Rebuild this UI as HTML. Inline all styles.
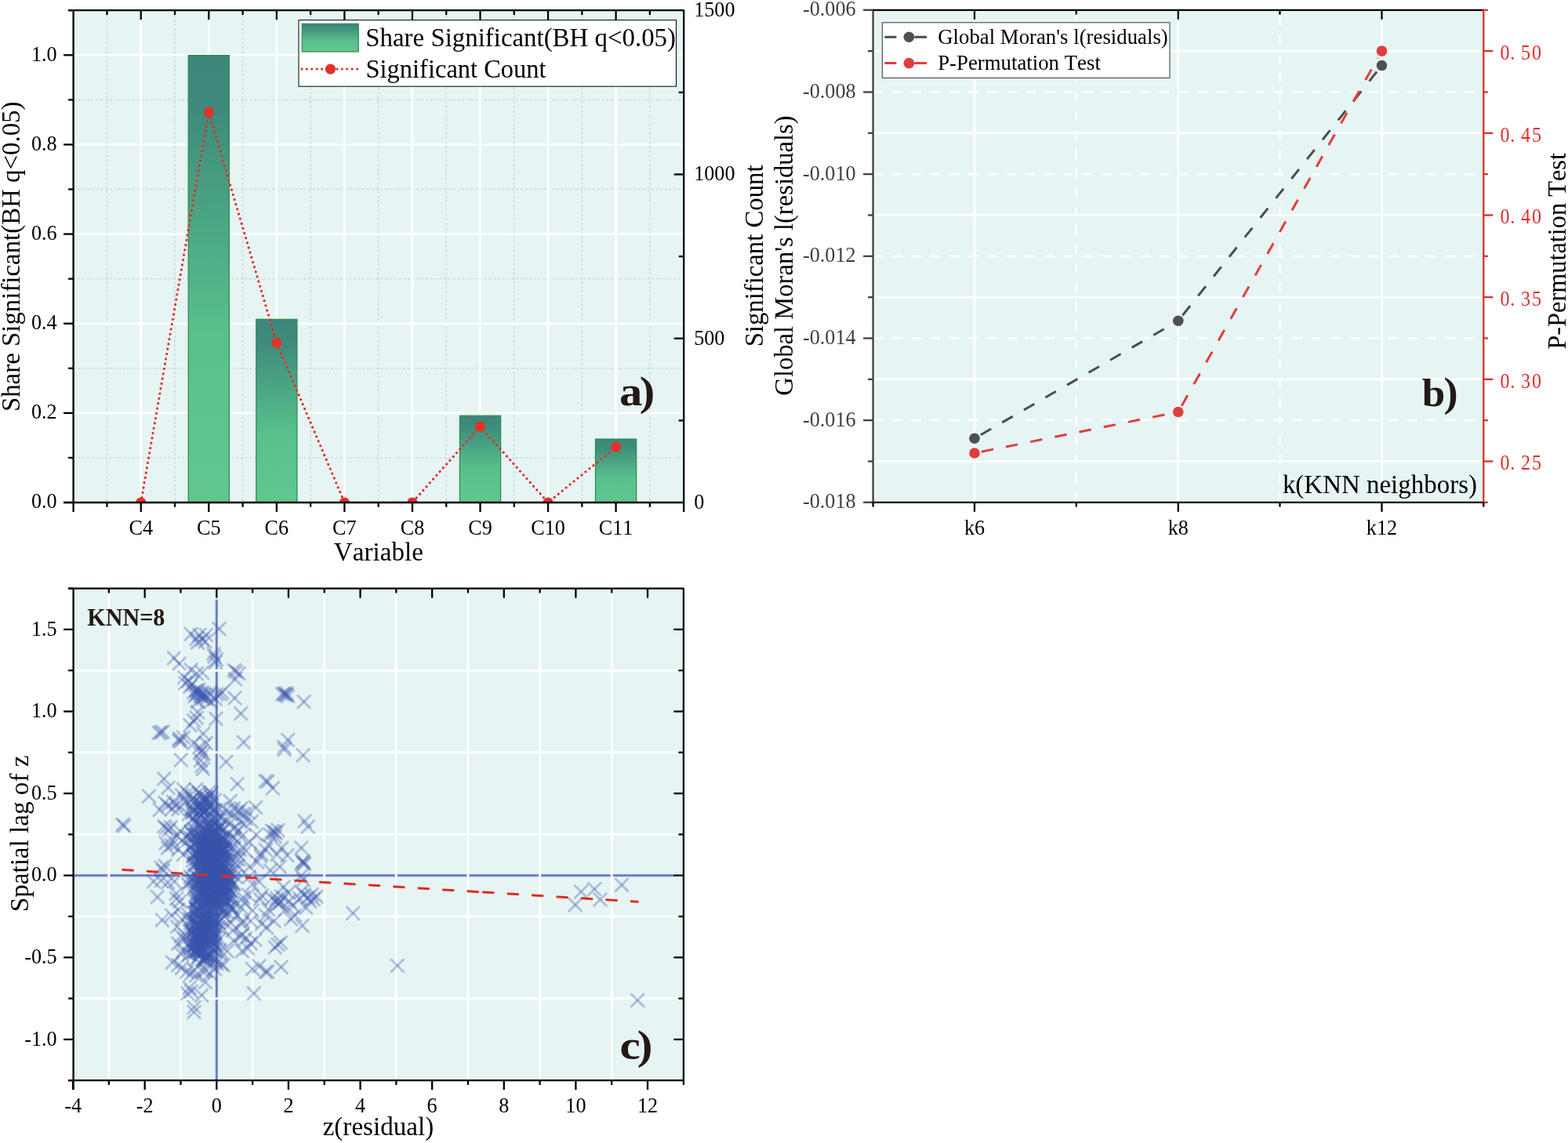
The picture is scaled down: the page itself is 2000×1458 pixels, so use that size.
<!DOCTYPE html>
<html lang="en"><head><meta charset="utf-8"><title>Figure</title>
<style>
html,body{margin:0;padding:0;background:#fff;}
body{width:2000px;height:1458px;overflow:hidden;}
svg{display:block;font-family:"Liberation Serif", serif;font-kerning:none;}
</style></head><body>
<svg width="2000" height="1458" viewBox="0 0 2000 1458">
<rect x="0" y="0" width="2000" height="1458" fill="#fff"/>
<rect x="93.6" y="13.2" width="778.6" height="627.8" fill="#e6f4f4"/>
<line x1="136.47" y1="13.20" x2="136.47" y2="641.00" stroke="#cad3d3" stroke-width="1.25" stroke-dasharray="3.1 2.66"/>
<line x1="223.02" y1="13.20" x2="223.02" y2="641.00" stroke="#cad3d3" stroke-width="1.25" stroke-dasharray="3.1 2.66"/>
<line x1="309.57" y1="13.20" x2="309.57" y2="641.00" stroke="#cad3d3" stroke-width="1.25" stroke-dasharray="3.1 2.66"/>
<line x1="396.12" y1="13.20" x2="396.12" y2="641.00" stroke="#cad3d3" stroke-width="1.25" stroke-dasharray="3.1 2.66"/>
<line x1="482.67" y1="13.20" x2="482.67" y2="641.00" stroke="#cad3d3" stroke-width="1.25" stroke-dasharray="3.1 2.66"/>
<line x1="569.23" y1="13.20" x2="569.23" y2="641.00" stroke="#cad3d3" stroke-width="1.25" stroke-dasharray="3.1 2.66"/>
<line x1="655.77" y1="13.20" x2="655.77" y2="641.00" stroke="#cad3d3" stroke-width="1.25" stroke-dasharray="3.1 2.66"/>
<line x1="742.33" y1="13.20" x2="742.33" y2="641.00" stroke="#cad3d3" stroke-width="1.25" stroke-dasharray="3.1 2.66"/>
<line x1="828.88" y1="13.20" x2="828.88" y2="641.00" stroke="#cad3d3" stroke-width="1.25" stroke-dasharray="3.1 2.66"/>
<line x1="93.60" y1="583.93" x2="872.20" y2="583.93" stroke="#cad3d3" stroke-width="1.25" stroke-dasharray="3.1 2.66"/>
<line x1="93.60" y1="469.78" x2="872.20" y2="469.78" stroke="#cad3d3" stroke-width="1.25" stroke-dasharray="3.1 2.66"/>
<line x1="93.60" y1="355.64" x2="872.20" y2="355.64" stroke="#cad3d3" stroke-width="1.25" stroke-dasharray="3.1 2.66"/>
<line x1="93.60" y1="241.49" x2="872.20" y2="241.49" stroke="#cad3d3" stroke-width="1.25" stroke-dasharray="3.1 2.66"/>
<line x1="93.60" y1="127.35" x2="872.20" y2="127.35" stroke="#cad3d3" stroke-width="1.25" stroke-dasharray="3.1 2.66"/>
<line x1="179.75" y1="13.20" x2="179.75" y2="641.00" stroke="#fff" stroke-width="2.9" />
<line x1="266.30" y1="13.20" x2="266.30" y2="641.00" stroke="#fff" stroke-width="2.9" />
<line x1="352.85" y1="13.20" x2="352.85" y2="641.00" stroke="#fff" stroke-width="2.9" />
<line x1="439.40" y1="13.20" x2="439.40" y2="641.00" stroke="#fff" stroke-width="2.9" />
<line x1="525.95" y1="13.20" x2="525.95" y2="641.00" stroke="#fff" stroke-width="2.9" />
<line x1="612.50" y1="13.20" x2="612.50" y2="641.00" stroke="#fff" stroke-width="2.9" />
<line x1="699.05" y1="13.20" x2="699.05" y2="641.00" stroke="#fff" stroke-width="2.9" />
<line x1="785.60" y1="13.20" x2="785.60" y2="641.00" stroke="#fff" stroke-width="2.9" />
<line x1="93.60" y1="526.85" x2="872.20" y2="526.85" stroke="#fff" stroke-width="2.9" />
<line x1="93.60" y1="412.71" x2="872.20" y2="412.71" stroke="#fff" stroke-width="2.9" />
<line x1="93.60" y1="298.56" x2="872.20" y2="298.56" stroke="#fff" stroke-width="2.9" />
<line x1="93.60" y1="184.42" x2="872.20" y2="184.42" stroke="#fff" stroke-width="2.9" />
<line x1="93.60" y1="70.27" x2="872.20" y2="70.27" stroke="#fff" stroke-width="2.9" />
<defs><linearGradient id="bg" x1="0" y1="0" x2="0" y2="1"><stop offset="0" stop-color="#3d877a"/><stop offset="0.12" stop-color="#3e8b7c"/><stop offset="0.62" stop-color="#58c08c"/><stop offset="1" stop-color="#61c78f"/></linearGradient><clipPath id="ca"><rect x="93.6" y="13.2" width="778.6" height="627.8"/></clipPath></defs>
<rect x="240.20" y="70.57" width="52.2" height="570.73" fill="url(#bg)" stroke="#2b8a49" stroke-width="1.2"/>
<rect x="326.75" y="407.30" width="52.2" height="234.00" fill="url(#bg)" stroke="#2b8a49" stroke-width="1.2"/>
<rect x="586.40" y="530.24" width="52.2" height="111.06" fill="url(#bg)" stroke="#2b8a49" stroke-width="1.2"/>
<rect x="759.50" y="560.03" width="52.2" height="81.27" fill="url(#bg)" stroke="#2b8a49" stroke-width="1.2"/>
<g clip-path="url(#ca)">
<path d="M179.75,641.00 L266.30,142.95 L352.85,437.17 L439.40,641.00 L525.95,641.00 L612.50,543.90 L699.05,641.00 L785.60,570.27" fill="none" stroke="#e1312a" stroke-width="3.2" stroke-linecap="round" stroke-dasharray="0.01 6.4"/>
<circle cx="179.75" cy="641.00" r="6.6" fill="#e1312a"/>
<circle cx="266.30" cy="142.95" r="6.6" fill="#e1312a"/>
<circle cx="352.85" cy="437.17" r="6.6" fill="#e1312a"/>
<circle cx="439.40" cy="641.00" r="6.6" fill="#e1312a"/>
<circle cx="525.95" cy="641.00" r="6.6" fill="#e1312a"/>
<circle cx="612.50" cy="543.90" r="6.6" fill="#e1312a"/>
<circle cx="699.05" cy="641.00" r="6.6" fill="#e1312a"/>
<circle cx="785.60" cy="570.27" r="6.6" fill="#e1312a"/>
</g>
<rect x="381" y="25.6" width="481.5" height="84.6" fill="#fff" stroke="#000" stroke-width="1"/>
<rect x="385.3" y="30.3" width="72" height="35.7" fill="url(#bg)" stroke="#2b8a49" stroke-width="1.2"/>
<text transform="translate(466.30 59.40) scale(0.9561 1)" font-size="34.4" text-anchor="start" fill="#000" font-weight="normal" >Share Significant(BH q&lt;0.05)</text>
<path d="M385,88.1 H456" fill="none" stroke="#e1312a" stroke-width="3.2" stroke-linecap="round" stroke-dasharray="0.01 6.4"/>
<circle cx="421.5" cy="88.1" r="6.6" fill="#e1312a"/>
<text transform="translate(466.50 99.40) scale(0.9448 1)" font-size="34.4" text-anchor="start" fill="#000" font-weight="normal" >Significant Count</text>
<line x1="93.60" y1="13.20" x2="93.60" y2="653.00" stroke="#000" stroke-width="2.3" />
<line x1="872.20" y1="13.20" x2="872.20" y2="653.00" stroke="#000" stroke-width="2.3" />
<line x1="87.10" y1="13.20" x2="873.00" y2="13.20" stroke="#000" stroke-width="2.3" />
<line x1="81.10" y1="641.00" x2="873.00" y2="641.00" stroke="#000" stroke-width="2.3" />
<line x1="179.75" y1="641.00" x2="179.75" y2="653.00" stroke="#000" stroke-width="2.3" />
<line x1="179.75" y1="13.20" x2="179.75" y2="25.20" stroke="#000" stroke-width="2.3" />
<line x1="266.30" y1="641.00" x2="266.30" y2="653.00" stroke="#000" stroke-width="2.3" />
<line x1="266.30" y1="13.20" x2="266.30" y2="25.20" stroke="#000" stroke-width="2.3" />
<line x1="352.85" y1="641.00" x2="352.85" y2="653.00" stroke="#000" stroke-width="2.3" />
<line x1="352.85" y1="13.20" x2="352.85" y2="25.20" stroke="#000" stroke-width="2.3" />
<line x1="439.40" y1="641.00" x2="439.40" y2="653.00" stroke="#000" stroke-width="2.3" />
<line x1="439.40" y1="13.20" x2="439.40" y2="25.20" stroke="#000" stroke-width="2.3" />
<line x1="525.95" y1="641.00" x2="525.95" y2="653.00" stroke="#000" stroke-width="2.3" />
<line x1="525.95" y1="13.20" x2="525.95" y2="25.20" stroke="#000" stroke-width="2.3" />
<line x1="612.50" y1="641.00" x2="612.50" y2="653.00" stroke="#000" stroke-width="2.3" />
<line x1="612.50" y1="13.20" x2="612.50" y2="25.20" stroke="#000" stroke-width="2.3" />
<line x1="699.05" y1="641.00" x2="699.05" y2="653.00" stroke="#000" stroke-width="2.3" />
<line x1="699.05" y1="13.20" x2="699.05" y2="25.20" stroke="#000" stroke-width="2.3" />
<line x1="785.60" y1="641.00" x2="785.60" y2="653.00" stroke="#000" stroke-width="2.3" />
<line x1="785.60" y1="13.20" x2="785.60" y2="25.20" stroke="#000" stroke-width="2.3" />
<line x1="136.47" y1="641.00" x2="136.47" y2="646.80" stroke="#000" stroke-width="2.3" />
<line x1="136.47" y1="13.20" x2="136.47" y2="19.00" stroke="#000" stroke-width="2.3" />
<line x1="223.02" y1="641.00" x2="223.02" y2="646.80" stroke="#000" stroke-width="2.3" />
<line x1="223.02" y1="13.20" x2="223.02" y2="19.00" stroke="#000" stroke-width="2.3" />
<line x1="309.57" y1="641.00" x2="309.57" y2="646.80" stroke="#000" stroke-width="2.3" />
<line x1="309.57" y1="13.20" x2="309.57" y2="19.00" stroke="#000" stroke-width="2.3" />
<line x1="396.12" y1="641.00" x2="396.12" y2="646.80" stroke="#000" stroke-width="2.3" />
<line x1="396.12" y1="13.20" x2="396.12" y2="19.00" stroke="#000" stroke-width="2.3" />
<line x1="482.67" y1="641.00" x2="482.67" y2="646.80" stroke="#000" stroke-width="2.3" />
<line x1="482.67" y1="13.20" x2="482.67" y2="19.00" stroke="#000" stroke-width="2.3" />
<line x1="569.23" y1="641.00" x2="569.23" y2="646.80" stroke="#000" stroke-width="2.3" />
<line x1="569.23" y1="13.20" x2="569.23" y2="19.00" stroke="#000" stroke-width="2.3" />
<line x1="655.77" y1="641.00" x2="655.77" y2="646.80" stroke="#000" stroke-width="2.3" />
<line x1="655.77" y1="13.20" x2="655.77" y2="19.00" stroke="#000" stroke-width="2.3" />
<line x1="742.33" y1="641.00" x2="742.33" y2="646.80" stroke="#000" stroke-width="2.3" />
<line x1="742.33" y1="13.20" x2="742.33" y2="19.00" stroke="#000" stroke-width="2.3" />
<line x1="828.88" y1="641.00" x2="828.88" y2="646.80" stroke="#000" stroke-width="2.3" />
<line x1="828.88" y1="13.20" x2="828.88" y2="19.00" stroke="#000" stroke-width="2.3" />
<line x1="81.10" y1="641.00" x2="93.60" y2="641.00" stroke="#000" stroke-width="2.3" />
<line x1="87.10" y1="583.93" x2="93.60" y2="583.93" stroke="#000" stroke-width="2.3" />
<line x1="81.10" y1="526.85" x2="93.60" y2="526.85" stroke="#000" stroke-width="2.3" />
<line x1="87.10" y1="469.78" x2="93.60" y2="469.78" stroke="#000" stroke-width="2.3" />
<line x1="81.10" y1="412.71" x2="93.60" y2="412.71" stroke="#000" stroke-width="2.3" />
<line x1="87.10" y1="355.64" x2="93.60" y2="355.64" stroke="#000" stroke-width="2.3" />
<line x1="81.10" y1="298.56" x2="93.60" y2="298.56" stroke="#000" stroke-width="2.3" />
<line x1="87.10" y1="241.49" x2="93.60" y2="241.49" stroke="#000" stroke-width="2.3" />
<line x1="81.10" y1="184.42" x2="93.60" y2="184.42" stroke="#000" stroke-width="2.3" />
<line x1="87.10" y1="127.35" x2="93.60" y2="127.35" stroke="#000" stroke-width="2.3" />
<line x1="81.10" y1="70.27" x2="93.60" y2="70.27" stroke="#000" stroke-width="2.3" />
<line x1="87.10" y1="13.20" x2="93.60" y2="13.20" stroke="#000" stroke-width="2.3" />
<text transform="translate(72.60 648.40) scale(0.9700 1)" font-size="27" text-anchor="end" fill="#000" font-weight="normal" >0.0</text>
<text transform="translate(72.60 534.25) scale(0.9700 1)" font-size="27" text-anchor="end" fill="#000" font-weight="normal" >0.2</text>
<text transform="translate(72.60 420.11) scale(0.9700 1)" font-size="27" text-anchor="end" fill="#000" font-weight="normal" >0.4</text>
<text transform="translate(72.60 305.96) scale(0.9700 1)" font-size="27" text-anchor="end" fill="#000" font-weight="normal" >0.6</text>
<text transform="translate(72.60 191.82) scale(0.9700 1)" font-size="27" text-anchor="end" fill="#000" font-weight="normal" >0.8</text>
<text transform="translate(72.60 77.67) scale(0.9700 1)" font-size="27" text-anchor="end" fill="#000" font-weight="normal" >1.0</text>
<line x1="859.70" y1="431.73" x2="872.20" y2="431.73" stroke="#000" stroke-width="2.3" />
<line x1="859.70" y1="222.47" x2="872.20" y2="222.47" stroke="#000" stroke-width="2.3" />
<line x1="865.70" y1="536.37" x2="872.20" y2="536.37" stroke="#000" stroke-width="2.3" />
<line x1="865.70" y1="327.10" x2="872.20" y2="327.10" stroke="#000" stroke-width="2.3" />
<line x1="865.70" y1="117.83" x2="872.20" y2="117.83" stroke="#000" stroke-width="2.3" />
<text transform="translate(885.20 648.80) scale(0.9700 1)" font-size="27" text-anchor="start" fill="#000" font-weight="normal" >0</text>
<text transform="translate(885.20 439.53) scale(0.9700 1)" font-size="27" text-anchor="start" fill="#000" font-weight="normal" >500</text>
<text transform="translate(885.20 230.27) scale(0.9700 1)" font-size="27" text-anchor="start" fill="#000" font-weight="normal" >1000</text>
<text transform="translate(885.20 21.00) scale(0.9700 1)" font-size="27" text-anchor="start" fill="#000" font-weight="normal" >1500</text>
<text transform="translate(179.75 681.80) scale(0.9700 1)" font-size="27" text-anchor="middle" fill="#000" font-weight="normal" >C4</text>
<text transform="translate(266.30 681.80) scale(0.9700 1)" font-size="27" text-anchor="middle" fill="#000" font-weight="normal" >C5</text>
<text transform="translate(352.85 681.80) scale(0.9700 1)" font-size="27" text-anchor="middle" fill="#000" font-weight="normal" >C6</text>
<text transform="translate(439.40 681.80) scale(0.9700 1)" font-size="27" text-anchor="middle" fill="#000" font-weight="normal" >C7</text>
<text transform="translate(525.95 681.80) scale(0.9700 1)" font-size="27" text-anchor="middle" fill="#000" font-weight="normal" >C8</text>
<text transform="translate(612.50 681.80) scale(0.9700 1)" font-size="27" text-anchor="middle" fill="#000" font-weight="normal" >C9</text>
<text transform="translate(699.05 681.80) scale(0.9700 1)" font-size="27" text-anchor="middle" fill="#000" font-weight="normal" >C10</text>
<text transform="translate(785.60 681.80) scale(0.9700 1)" font-size="27" text-anchor="middle" fill="#000" font-weight="normal" >C11</text>
<text transform="translate(482.85 715.40) scale(0.9627 1)" font-size="34.4" text-anchor="middle" fill="#000" font-weight="normal" >Variable</text>
<text transform="translate(25.40 327.30) rotate(-90) scale(0.9877 1)" font-size="33.3" text-anchor="middle" fill="#000" font-weight="normal" >Share Significant(BH q&lt;0.05)</text>
<text transform="translate(972.90 326.40) rotate(-90) scale(0.9838 1)" font-size="33.3" text-anchor="middle" fill="#000" font-weight="normal" >Significant Count</text>
<text transform="translate(789.90 517.40) scale(1.1050 1)" font-size="53" font-weight="bold" fill="#231815" text-anchor="start">a<tspan x="23.30" font-size="53">)</tspan></text>
<rect x="1113.6" y="12.8" width="778.7" height="628.0" fill="#e6f4f4"/>
<line x1="1113.60" y1="65.13" x2="1892.30" y2="65.13" stroke="#fff" stroke-width="2.9" />
<line x1="1113.60" y1="169.80" x2="1892.30" y2="169.80" stroke="#fff" stroke-width="2.9" />
<line x1="1113.60" y1="274.47" x2="1892.30" y2="274.47" stroke="#fff" stroke-width="2.9" />
<line x1="1113.60" y1="379.13" x2="1892.30" y2="379.13" stroke="#fff" stroke-width="2.9" />
<line x1="1113.60" y1="483.80" x2="1892.30" y2="483.80" stroke="#fff" stroke-width="2.9" />
<line x1="1113.60" y1="588.47" x2="1892.30" y2="588.47" stroke="#fff" stroke-width="2.9" />
<line x1="1113.60" y1="117.47" x2="1892.30" y2="117.47" stroke="#fff" stroke-width="2.7" stroke-dasharray="12.6 11.73"/>
<line x1="1113.60" y1="222.13" x2="1892.30" y2="222.13" stroke="#fff" stroke-width="2.7" stroke-dasharray="12.6 11.73"/>
<line x1="1113.60" y1="326.80" x2="1892.30" y2="326.80" stroke="#fff" stroke-width="2.7" stroke-dasharray="12.6 11.73"/>
<line x1="1113.60" y1="431.47" x2="1892.30" y2="431.47" stroke="#fff" stroke-width="2.7" stroke-dasharray="12.6 11.73"/>
<line x1="1113.60" y1="536.13" x2="1892.30" y2="536.13" stroke="#fff" stroke-width="2.7" stroke-dasharray="12.6 11.73"/>
<line x1="1243.00" y1="12.80" x2="1243.00" y2="640.80" stroke="#fff" stroke-width="2.9" />
<line x1="1502.80" y1="12.80" x2="1502.80" y2="640.80" stroke="#fff" stroke-width="2.9" />
<line x1="1762.50" y1="12.80" x2="1762.50" y2="640.80" stroke="#fff" stroke-width="2.9" />
<line x1="1372.80" y1="640.80" x2="1372.80" y2="12.80" stroke="#fff" stroke-width="2.7" stroke-dasharray="12.6 11.73"/>
<line x1="1632.50" y1="640.80" x2="1632.50" y2="12.80" stroke="#fff" stroke-width="2.7" stroke-dasharray="12.6 11.73"/>
<path d="M1250.79,554.75 L1494.14,414.25" fill="none" stroke="#4d4d4d" stroke-width="3" stroke-dasharray="15.5 16.32"/>
<path d="M1508.41,402.21 L1756.27,91.32" fill="none" stroke="#4d4d4d" stroke-width="3" stroke-dasharray="15.5 16.32"/>
<path d="M1251.82,576.22 L1493.00,527.48" fill="none" stroke="#e23d3d" stroke-width="3" stroke-dasharray="15.5 16.32"/>
<path d="M1507.22,517.66 L1757.59,73.81" fill="none" stroke="#e23d3d" stroke-width="3" stroke-dasharray="15.5 16.32"/>
<circle cx="1243.00" cy="559.25" r="6.8" fill="#505050"/>
<circle cx="1502.80" cy="409.25" r="6.8" fill="#505050"/>
<circle cx="1762.50" cy="83.50" r="6.8" fill="#505050"/>
<circle cx="1243.00" cy="578.00" r="6.8" fill="#e23d3d"/>
<circle cx="1502.80" cy="525.50" r="6.8" fill="#e23d3d"/>
<circle cx="1762.50" cy="65.10" r="6.8" fill="#e23d3d"/>
<rect x="1125.3" y="28.8" width="366.7" height="70.6" fill="#fff" stroke="#333" stroke-width="1"/>
<path d="M1129.6,47.25 H1142.2 M1167.5,47.25 H1181" fill="none" stroke="#4d4d4d" stroke-width="3" stroke-linecap="round"/>
<circle cx="1159.4" cy="47.25" r="6.8" fill="#505050"/>
<text transform="translate(1196.20 55.60)" font-size="26.8" text-anchor="start" fill="#000" font-weight="normal" >Global Moran's l(residuals)</text>
<path d="M1129.6,80.6 H1142.2 M1167.5,80.6 H1181" fill="none" stroke="#e23d3d" stroke-width="3" stroke-linecap="round"/>
<circle cx="1159.4" cy="80.6" r="6.8" fill="#e23d3d"/>
<text transform="translate(1196.20 89.40)" font-size="26.8" text-anchor="start" fill="#000" font-weight="normal" >P-Permutation Test</text>
<text transform="translate(1884.00 628.60) scale(0.9585 1)" font-size="34.4" text-anchor="end" fill="#000" font-weight="normal" >k(KNN neighbors)</text>
<text transform="translate(1813.70 517.60) scale(1.0300 1)" font-size="51.5" font-weight="bold" fill="#231815" text-anchor="start">b<tspan x="26.94" font-size="53">)</tspan></text>
<line x1="1113.60" y1="11.70" x2="1113.60" y2="641.90" stroke="#404040" stroke-width="2.3" />
<line x1="1113.60" y1="12.80" x2="1892.30" y2="12.80" stroke="#000" stroke-width="2.3" />
<line x1="1113.60" y1="640.80" x2="1892.30" y2="640.80" stroke="#000" stroke-width="2.3" />
<line x1="1892.30" y1="11.70" x2="1892.30" y2="641.90" stroke="#e02e2b" stroke-width="2.3" />
<line x1="1101.10" y1="12.80" x2="1113.60" y2="12.80" stroke="#404040" stroke-width="2.3" />
<line x1="1107.10" y1="65.13" x2="1113.60" y2="65.13" stroke="#404040" stroke-width="2.3" />
<line x1="1101.10" y1="117.47" x2="1113.60" y2="117.47" stroke="#404040" stroke-width="2.3" />
<line x1="1107.10" y1="169.80" x2="1113.60" y2="169.80" stroke="#404040" stroke-width="2.3" />
<line x1="1101.10" y1="222.13" x2="1113.60" y2="222.13" stroke="#404040" stroke-width="2.3" />
<line x1="1107.10" y1="274.47" x2="1113.60" y2="274.47" stroke="#404040" stroke-width="2.3" />
<line x1="1101.10" y1="326.80" x2="1113.60" y2="326.80" stroke="#404040" stroke-width="2.3" />
<line x1="1107.10" y1="379.13" x2="1113.60" y2="379.13" stroke="#404040" stroke-width="2.3" />
<line x1="1101.10" y1="431.47" x2="1113.60" y2="431.47" stroke="#404040" stroke-width="2.3" />
<line x1="1107.10" y1="483.80" x2="1113.60" y2="483.80" stroke="#404040" stroke-width="2.3" />
<line x1="1101.10" y1="536.13" x2="1113.60" y2="536.13" stroke="#404040" stroke-width="2.3" />
<line x1="1107.10" y1="588.47" x2="1113.60" y2="588.47" stroke="#404040" stroke-width="2.3" />
<line x1="1101.10" y1="640.80" x2="1113.60" y2="640.80" stroke="#404040" stroke-width="2.3" />
<text transform="translate(1091.60 20.40) scale(0.9700 1)" font-size="27" text-anchor="end" fill="#404040" font-weight="normal" >-0.006</text>
<text transform="translate(1091.60 125.07) scale(0.9700 1)" font-size="27" text-anchor="end" fill="#404040" font-weight="normal" >-0.008</text>
<text transform="translate(1091.60 229.73) scale(0.9700 1)" font-size="27" text-anchor="end" fill="#404040" font-weight="normal" >-0.010</text>
<text transform="translate(1091.60 334.40) scale(0.9700 1)" font-size="27" text-anchor="end" fill="#404040" font-weight="normal" >-0.012</text>
<text transform="translate(1091.60 439.07) scale(0.9700 1)" font-size="27" text-anchor="end" fill="#404040" font-weight="normal" >-0.014</text>
<text transform="translate(1091.60 543.73) scale(0.9700 1)" font-size="27" text-anchor="end" fill="#404040" font-weight="normal" >-0.016</text>
<text transform="translate(1091.60 648.40) scale(0.9700 1)" font-size="27" text-anchor="end" fill="#404040" font-weight="normal" >-0.018</text>
<line x1="1892.30" y1="12.80" x2="1897.90" y2="12.80" stroke="#e02e2b" stroke-width="2.3" />
<line x1="1892.30" y1="65.13" x2="1904.40" y2="65.13" stroke="#e02e2b" stroke-width="2.3" />
<line x1="1892.30" y1="117.47" x2="1897.90" y2="117.47" stroke="#e02e2b" stroke-width="2.3" />
<line x1="1892.30" y1="169.80" x2="1904.40" y2="169.80" stroke="#e02e2b" stroke-width="2.3" />
<line x1="1892.30" y1="222.13" x2="1897.90" y2="222.13" stroke="#e02e2b" stroke-width="2.3" />
<line x1="1892.30" y1="274.47" x2="1904.40" y2="274.47" stroke="#e02e2b" stroke-width="2.3" />
<line x1="1892.30" y1="326.80" x2="1897.90" y2="326.80" stroke="#e02e2b" stroke-width="2.3" />
<line x1="1892.30" y1="379.13" x2="1904.40" y2="379.13" stroke="#e02e2b" stroke-width="2.3" />
<line x1="1892.30" y1="431.47" x2="1897.90" y2="431.47" stroke="#e02e2b" stroke-width="2.3" />
<line x1="1892.30" y1="483.80" x2="1904.40" y2="483.80" stroke="#e02e2b" stroke-width="2.3" />
<line x1="1892.30" y1="536.13" x2="1897.90" y2="536.13" stroke="#e02e2b" stroke-width="2.3" />
<line x1="1892.30" y1="588.47" x2="1904.40" y2="588.47" stroke="#e02e2b" stroke-width="2.3" />
<line x1="1892.30" y1="640.80" x2="1897.90" y2="640.80" stroke="#e02e2b" stroke-width="2.3" />
<text transform="translate(1913.4 76.03) scale(0.86 1)" x="0 15 31.05 47.27" font-size="28" fill="#e02e2b" text-anchor="start">0.50</text>
<text transform="translate(1913.4 180.70) scale(0.86 1)" x="0 15 31.05 47.27" font-size="28" fill="#e02e2b" text-anchor="start">0.45</text>
<text transform="translate(1913.4 285.37) scale(0.86 1)" x="0 15 31.05 47.27" font-size="28" fill="#e02e2b" text-anchor="start">0.40</text>
<text transform="translate(1913.4 390.03) scale(0.86 1)" x="0 15 31.05 47.27" font-size="28" fill="#e02e2b" text-anchor="start">0.35</text>
<text transform="translate(1913.4 494.70) scale(0.86 1)" x="0 15 31.05 47.27" font-size="28" fill="#e02e2b" text-anchor="start">0.30</text>
<text transform="translate(1913.4 599.37) scale(0.86 1)" x="0 15 31.05 47.27" font-size="28" fill="#e02e2b" text-anchor="start">0.25</text>
<line x1="1243.00" y1="640.80" x2="1243.00" y2="652.80" stroke="#000" stroke-width="2.3" />
<line x1="1243.00" y1="12.80" x2="1243.00" y2="24.80" stroke="#000" stroke-width="2.3" />
<line x1="1502.80" y1="640.80" x2="1502.80" y2="652.80" stroke="#000" stroke-width="2.3" />
<line x1="1502.80" y1="12.80" x2="1502.80" y2="24.80" stroke="#000" stroke-width="2.3" />
<line x1="1762.50" y1="640.80" x2="1762.50" y2="652.80" stroke="#000" stroke-width="2.3" />
<line x1="1762.50" y1="12.80" x2="1762.50" y2="24.80" stroke="#000" stroke-width="2.3" />
<line x1="1113.60" y1="640.80" x2="1113.60" y2="646.60" stroke="#000" stroke-width="2.3" />
<line x1="1372.80" y1="640.80" x2="1372.80" y2="646.60" stroke="#000" stroke-width="2.3" />
<line x1="1632.50" y1="640.80" x2="1632.50" y2="646.60" stroke="#000" stroke-width="2.3" />
<line x1="1892.30" y1="640.80" x2="1892.30" y2="646.60" stroke="#000" stroke-width="2.3" />
<line x1="1372.80" y1="12.80" x2="1372.80" y2="18.60" stroke="#000" stroke-width="2.3" />
<line x1="1632.50" y1="12.80" x2="1632.50" y2="18.60" stroke="#000" stroke-width="2.3" />
<text transform="translate(1243.00 681.90) scale(0.9700 1)" font-size="27" text-anchor="middle" fill="#000" font-weight="normal" >k6</text>
<text transform="translate(1502.80 681.90) scale(0.9700 1)" font-size="27" text-anchor="middle" fill="#000" font-weight="normal" >k8</text>
<text transform="translate(1762.50 681.90) scale(0.9700 1)" font-size="27" text-anchor="middle" fill="#000" font-weight="normal" >k12</text>
<text transform="translate(1010.80 326.00) rotate(-90) scale(0.9799 1)" font-size="33.3" text-anchor="middle" fill="#000" font-weight="normal" >Global Moran's l(residuals)</text>
<text transform="translate(1997.10 320.40) rotate(-90) scale(0.9711 1)" font-size="33.3" text-anchor="middle" fill="#000" font-weight="normal" >P-Permutation Test</text>
<rect x="93.6" y="750.7" width="778.3" height="627.3999999999999" fill="#e6f4f4"/>
<defs><clipPath id="cc"><rect x="93.6" y="750.7" width="778.3" height="627.3999999999999"/></clipPath>
<g id="m"><path d="M-7.8,-7.8L7.8,7.8"/><path d="M-7.8,7.8L7.8,-7.8"/></g></defs>
<line x1="276.30" y1="764.70" x2="276.30" y2="1378.10" stroke="#6a7ec5" stroke-width="3.0" />
<line x1="93.60" y1="1116.70" x2="859.90" y2="1116.70" stroke="#6a7ec5" stroke-width="3.0" />
<line x1="138.87" y1="750.70" x2="138.87" y2="1378.10" stroke="#fff" stroke-width="2.9" />
<line x1="230.49" y1="750.70" x2="230.49" y2="1378.10" stroke="#fff" stroke-width="2.9" />
<line x1="322.11" y1="750.70" x2="322.11" y2="1378.10" stroke="#fff" stroke-width="2.9" />
<line x1="413.73" y1="750.70" x2="413.73" y2="1378.10" stroke="#fff" stroke-width="2.9" />
<line x1="505.35" y1="750.70" x2="505.35" y2="1378.10" stroke="#fff" stroke-width="2.9" />
<line x1="596.97" y1="750.70" x2="596.97" y2="1378.10" stroke="#fff" stroke-width="2.9" />
<line x1="688.59" y1="750.70" x2="688.59" y2="1378.10" stroke="#fff" stroke-width="2.9" />
<line x1="780.21" y1="750.70" x2="780.21" y2="1378.10" stroke="#fff" stroke-width="2.9" />
<line x1="93.60" y1="855.20" x2="871.90" y2="855.20" stroke="#fff" stroke-width="2.9" />
<line x1="93.60" y1="959.80" x2="871.90" y2="959.80" stroke="#fff" stroke-width="2.9" />
<line x1="93.60" y1="1064.40" x2="871.90" y2="1064.40" stroke="#fff" stroke-width="2.9" />
<line x1="93.60" y1="1169.00" x2="871.90" y2="1169.00" stroke="#fff" stroke-width="2.9" />
<line x1="93.60" y1="1273.60" x2="871.90" y2="1273.60" stroke="#fff" stroke-width="2.9" />
<g clip-path="url(#cc)" stroke="#3a55ac" stroke-opacity="0.33" stroke-width="3" stroke-linecap="round" fill="none">
<use href="#m" x="265.2" y="1083.2"/>
<use href="#m" x="265.5" y="1070"/>
<use href="#m" x="257.8" y="1071.6"/>
<use href="#m" x="280.2" y="1081.8"/>
<use href="#m" x="279.4" y="1079"/>
<use href="#m" x="272.3" y="1078"/>
<use href="#m" x="249.7" y="1088.7"/>
<use href="#m" x="273.6" y="1083"/>
<use href="#m" x="249.4" y="1047.1"/>
<use href="#m" x="258.2" y="1067.5"/>
<use href="#m" x="271.4" y="1074.3"/>
<use href="#m" x="273.7" y="1064.7"/>
<use href="#m" x="271.4" y="1081.3"/>
<use href="#m" x="260.7" y="1102.5"/>
<use href="#m" x="274.1" y="1094.2"/>
<use href="#m" x="261.2" y="1063.2"/>
<use href="#m" x="264.2" y="1073.3"/>
<use href="#m" x="275" y="1079"/>
<use href="#m" x="263.1" y="1059.7"/>
<use href="#m" x="262.3" y="1094.5"/>
<use href="#m" x="259.1" y="1078.9"/>
<use href="#m" x="272.7" y="1051.2"/>
<use href="#m" x="268.5" y="1095.9"/>
<use href="#m" x="245.8" y="1069.9"/>
<use href="#m" x="266.8" y="1061.9"/>
<use href="#m" x="273.5" y="1074"/>
<use href="#m" x="251.9" y="1088.2"/>
<use href="#m" x="275.4" y="1090.1"/>
<use href="#m" x="283.8" y="1080.8"/>
<use href="#m" x="269.3" y="1054.2"/>
<use href="#m" x="274.8" y="1065.2"/>
<use href="#m" x="263" y="1054.8"/>
<use href="#m" x="257.4" y="1066.5"/>
<use href="#m" x="282.2" y="1042.5"/>
<use href="#m" x="252" y="1078.8"/>
<use href="#m" x="283.9" y="1084.3"/>
<use href="#m" x="247.1" y="1034.7"/>
<use href="#m" x="271.9" y="1063.2"/>
<use href="#m" x="255.7" y="1090.6"/>
<use href="#m" x="280.1" y="1077.5"/>
<use href="#m" x="270.7" y="1081.9"/>
<use href="#m" x="285.5" y="1084.9"/>
<use href="#m" x="273.7" y="1083.8"/>
<use href="#m" x="250.7" y="1095.5"/>
<use href="#m" x="278.5" y="1083.5"/>
<use href="#m" x="246.3" y="1064.9"/>
<use href="#m" x="277.3" y="1046"/>
<use href="#m" x="266" y="1091.3"/>
<use href="#m" x="253.6" y="1100.8"/>
<use href="#m" x="274.1" y="1072.6"/>
<use href="#m" x="271.6" y="1085.4"/>
<use href="#m" x="269.3" y="1093.3"/>
<use href="#m" x="260.7" y="1068.4"/>
<use href="#m" x="279.5" y="1075.4"/>
<use href="#m" x="258.3" y="1090.1"/>
<use href="#m" x="284.1" y="1067.9"/>
<use href="#m" x="252.8" y="1072.8"/>
<use href="#m" x="266.4" y="1070.2"/>
<use href="#m" x="283.5" y="1058.6"/>
<use href="#m" x="281.9" y="1054.7"/>
<use href="#m" x="259.3" y="1085.1"/>
<use href="#m" x="280.4" y="1088.7"/>
<use href="#m" x="271.8" y="1077.3"/>
<use href="#m" x="269.7" y="1084.2"/>
<use href="#m" x="266.1" y="1079.4"/>
<use href="#m" x="274.3" y="1075"/>
<use href="#m" x="276.4" y="1084.1"/>
<use href="#m" x="290.1" y="1080.2"/>
<use href="#m" x="263.3" y="1069"/>
<use href="#m" x="267.9" y="1089.8"/>
<use href="#m" x="264.3" y="1081.2"/>
<use href="#m" x="288.2" y="1034"/>
<use href="#m" x="255.6" y="1078.9"/>
<use href="#m" x="272.4" y="1078.8"/>
<use href="#m" x="263.3" y="1085.5"/>
<use href="#m" x="271.1" y="1066.6"/>
<use href="#m" x="294.7" y="1080.7"/>
<use href="#m" x="261.9" y="1073.4"/>
<use href="#m" x="265.5" y="1074"/>
<use href="#m" x="238" y="1067.2"/>
<use href="#m" x="279.1" y="1056.3"/>
<use href="#m" x="267.3" y="1090.3"/>
<use href="#m" x="277.4" y="1098.9"/>
<use href="#m" x="249.3" y="1069.3"/>
<use href="#m" x="264.2" y="1085"/>
<use href="#m" x="280" y="1032.1"/>
<use href="#m" x="280" y="1051.8"/>
<use href="#m" x="275.5" y="1051.1"/>
<use href="#m" x="269.9" y="1094.1"/>
<use href="#m" x="266.4" y="1078.1"/>
<use href="#m" x="276.8" y="1077.3"/>
<use href="#m" x="267" y="1099.5"/>
<use href="#m" x="279.5" y="1070.3"/>
<use href="#m" x="298.2" y="1056.7"/>
<use href="#m" x="278.1" y="1070.7"/>
<use href="#m" x="269.5" y="1086.3"/>
<use href="#m" x="270.4" y="1085.2"/>
<use href="#m" x="251.2" y="1050.8"/>
<use href="#m" x="274.8" y="1059.6"/>
<use href="#m" x="256.7" y="1051.5"/>
<use href="#m" x="281.9" y="1086.9"/>
<use href="#m" x="284.2" y="1060"/>
<use href="#m" x="268" y="1056.8"/>
<use href="#m" x="276.4" y="1100.4"/>
<use href="#m" x="258.2" y="1100"/>
<use href="#m" x="278.9" y="1072.2"/>
<use href="#m" x="246.3" y="1097.5"/>
<use href="#m" x="266.9" y="1065.4"/>
<use href="#m" x="272.4" y="1081.6"/>
<use href="#m" x="284.5" y="1058.7"/>
<use href="#m" x="280.5" y="1098.8"/>
<use href="#m" x="284" y="1072.1"/>
<use href="#m" x="259.8" y="1091.3"/>
<use href="#m" x="269.3" y="1077"/>
<use href="#m" x="283.7" y="1070.8"/>
<use href="#m" x="242.7" y="1068.8"/>
<use href="#m" x="247.6" y="1088.1"/>
<use href="#m" x="271.5" y="1065.2"/>
<use href="#m" x="267.9" y="1088.3"/>
<use href="#m" x="268.9" y="1096.2"/>
<use href="#m" x="267.3" y="1091.6"/>
<use href="#m" x="284.4" y="1100.8"/>
<use href="#m" x="260.6" y="1089.1"/>
<use href="#m" x="247.4" y="1057.7"/>
<use href="#m" x="246.4" y="1092.1"/>
<use href="#m" x="254.4" y="1074.8"/>
<use href="#m" x="265.9" y="1074.5"/>
<use href="#m" x="261.5" y="1078.7"/>
<use href="#m" x="287.7" y="1075.7"/>
<use href="#m" x="273.8" y="1091"/>
<use href="#m" x="265.8" y="1054.8"/>
<use href="#m" x="261.9" y="1092.2"/>
<use href="#m" x="249.9" y="1065.4"/>
<use href="#m" x="279.1" y="1087.7"/>
<use href="#m" x="268.1" y="1087.9"/>
<use href="#m" x="269.8" y="1056.1"/>
<use href="#m" x="250.8" y="1064.8"/>
<use href="#m" x="278.2" y="1066"/>
<use href="#m" x="258.1" y="1062.7"/>
<use href="#m" x="251.2" y="1073.1"/>
<use href="#m" x="255" y="1080.8"/>
<use href="#m" x="242" y="1080.2"/>
<use href="#m" x="260.9" y="1043.9"/>
<use href="#m" x="276" y="1070.6"/>
<use href="#m" x="243.5" y="1061"/>
<use href="#m" x="271.2" y="1067.7"/>
<use href="#m" x="276.6" y="1087"/>
<use href="#m" x="275.3" y="1080.2"/>
<use href="#m" x="282.7" y="1085.6"/>
<use href="#m" x="273" y="1041.7"/>
<use href="#m" x="277.9" y="1096"/>
<use href="#m" x="264.7" y="1067.5"/>
<use href="#m" x="289.3" y="1046.9"/>
<use href="#m" x="273.2" y="1113.8"/>
<use href="#m" x="257.8" y="1086"/>
<use href="#m" x="288.8" y="1073.1"/>
<use href="#m" x="274.2" y="1089.4"/>
<use href="#m" x="258" y="1073.6"/>
<use href="#m" x="271.2" y="1088.2"/>
<use href="#m" x="267.6" y="1071.9"/>
<use href="#m" x="256.8" y="1069.3"/>
<use href="#m" x="277.8" y="1076.6"/>
<use href="#m" x="258.6" y="1061.5"/>
<use href="#m" x="297.3" y="1093.2"/>
<use href="#m" x="275" y="1033.5"/>
<use href="#m" x="274.8" y="1082.7"/>
<use href="#m" x="286.5" y="1081.8"/>
<use href="#m" x="267.3" y="1083.4"/>
<use href="#m" x="246.6" y="1091.5"/>
<use href="#m" x="271.6" y="1063.8"/>
<use href="#m" x="282.6" y="1103.9"/>
<use href="#m" x="252.6" y="1064.3"/>
<use href="#m" x="271.2" y="1077.9"/>
<use href="#m" x="263.6" y="1059.4"/>
<use href="#m" x="291.3" y="1091.6"/>
<use href="#m" x="254.9" y="1053.5"/>
<use href="#m" x="286.7" y="1090.8"/>
<use href="#m" x="288" y="1088"/>
<use href="#m" x="258.4" y="1079.2"/>
<use href="#m" x="244.2" y="1063"/>
<use href="#m" x="267.4" y="1083.4"/>
<use href="#m" x="260" y="1073"/>
<use href="#m" x="273" y="1081"/>
<use href="#m" x="275" y="1078.3"/>
<use href="#m" x="264.4" y="1087.6"/>
<use href="#m" x="268.5" y="1061.8"/>
<use href="#m" x="261.1" y="1075"/>
<use href="#m" x="266.8" y="1077.5"/>
<use href="#m" x="268" y="1077.8"/>
<use href="#m" x="266.5" y="1054.9"/>
<use href="#m" x="272.6" y="1091.9"/>
<use href="#m" x="272.8" y="1072"/>
<use href="#m" x="272.9" y="1059.5"/>
<use href="#m" x="247.1" y="1076"/>
<use href="#m" x="257.8" y="1086.8"/>
<use href="#m" x="256.1" y="1032.9"/>
<use href="#m" x="256.6" y="1100.2"/>
<use href="#m" x="263.8" y="1053.1"/>
<use href="#m" x="259.6" y="1083.3"/>
<use href="#m" x="273.5" y="1077.8"/>
<use href="#m" x="289.5" y="1140.5"/>
<use href="#m" x="270.7" y="1138.1"/>
<use href="#m" x="291.7" y="1146.4"/>
<use href="#m" x="283.8" y="1101.2"/>
<use href="#m" x="269.1" y="1141.1"/>
<use href="#m" x="267.3" y="1148.5"/>
<use href="#m" x="278.5" y="1145"/>
<use href="#m" x="268.3" y="1181"/>
<use href="#m" x="286.5" y="1120.3"/>
<use href="#m" x="272.1" y="1182.1"/>
<use href="#m" x="266.7" y="1144.2"/>
<use href="#m" x="283.3" y="1125.1"/>
<use href="#m" x="256.4" y="1129.1"/>
<use href="#m" x="275.5" y="1149.9"/>
<use href="#m" x="280.8" y="1125.5"/>
<use href="#m" x="281.7" y="1136.9"/>
<use href="#m" x="273.6" y="1126.2"/>
<use href="#m" x="268" y="1140.1"/>
<use href="#m" x="257.8" y="1111.2"/>
<use href="#m" x="271.1" y="1092.8"/>
<use href="#m" x="265.6" y="1080.8"/>
<use href="#m" x="262.5" y="1137.5"/>
<use href="#m" x="278.1" y="1123.8"/>
<use href="#m" x="268.1" y="1093.8"/>
<use href="#m" x="293.8" y="1136.4"/>
<use href="#m" x="284.7" y="1105.6"/>
<use href="#m" x="268.7" y="1085"/>
<use href="#m" x="280.8" y="1145.6"/>
<use href="#m" x="247.3" y="1123.9"/>
<use href="#m" x="278.9" y="1086.2"/>
<use href="#m" x="248.2" y="1101.6"/>
<use href="#m" x="263.1" y="1094.1"/>
<use href="#m" x="271.4" y="1130.5"/>
<use href="#m" x="278.9" y="1140.4"/>
<use href="#m" x="289.8" y="1150.6"/>
<use href="#m" x="254.6" y="1113.9"/>
<use href="#m" x="257.7" y="1101.3"/>
<use href="#m" x="270" y="1125.1"/>
<use href="#m" x="277.1" y="1090.1"/>
<use href="#m" x="255.5" y="1124.5"/>
<use href="#m" x="268.5" y="1118.2"/>
<use href="#m" x="270.2" y="1108.3"/>
<use href="#m" x="279.8" y="1132.8"/>
<use href="#m" x="269.9" y="1110.2"/>
<use href="#m" x="268.8" y="1065.1"/>
<use href="#m" x="258.7" y="1125.8"/>
<use href="#m" x="252.2" y="1129.4"/>
<use href="#m" x="272.8" y="1094.7"/>
<use href="#m" x="267.9" y="1118.1"/>
<use href="#m" x="276.7" y="1138.5"/>
<use href="#m" x="270.5" y="1106.3"/>
<use href="#m" x="269.2" y="1123.6"/>
<use href="#m" x="280.2" y="1131.5"/>
<use href="#m" x="262" y="1095.2"/>
<use href="#m" x="266.3" y="1108.7"/>
<use href="#m" x="257.1" y="1122.4"/>
<use href="#m" x="264.9" y="1127.3"/>
<use href="#m" x="277.5" y="1115.9"/>
<use href="#m" x="300.1" y="1117.9"/>
<use href="#m" x="284.8" y="1127.7"/>
<use href="#m" x="285" y="1072.7"/>
<use href="#m" x="261.6" y="1130.4"/>
<use href="#m" x="278.5" y="1176.4"/>
<use href="#m" x="275" y="1153.2"/>
<use href="#m" x="280.6" y="1145.8"/>
<use href="#m" x="277.4" y="1121.6"/>
<use href="#m" x="277.4" y="1101.3"/>
<use href="#m" x="285.8" y="1102.6"/>
<use href="#m" x="274.1" y="1171.7"/>
<use href="#m" x="268.2" y="1125.4"/>
<use href="#m" x="285.5" y="1125.6"/>
<use href="#m" x="260.9" y="1130.7"/>
<use href="#m" x="278.3" y="1140.6"/>
<use href="#m" x="261.3" y="1163.6"/>
<use href="#m" x="291.8" y="1125.4"/>
<use href="#m" x="274.4" y="1115.6"/>
<use href="#m" x="288.7" y="1109.5"/>
<use href="#m" x="279.4" y="1114.4"/>
<use href="#m" x="262.3" y="1140.8"/>
<use href="#m" x="287.7" y="1124.8"/>
<use href="#m" x="262.5" y="1142.9"/>
<use href="#m" x="270.4" y="1131.8"/>
<use href="#m" x="290" y="1149.9"/>
<use href="#m" x="264.5" y="1175.2"/>
<use href="#m" x="271" y="1142.3"/>
<use href="#m" x="262.9" y="1124"/>
<use href="#m" x="249.1" y="1164.3"/>
<use href="#m" x="288.1" y="1098.3"/>
<use href="#m" x="252.2" y="1089.3"/>
<use href="#m" x="285.7" y="1114.9"/>
<use href="#m" x="270.2" y="1118.1"/>
<use href="#m" x="269.5" y="1101.1"/>
<use href="#m" x="271.3" y="1093.4"/>
<use href="#m" x="270.1" y="1131.8"/>
<use href="#m" x="276.8" y="1119.9"/>
<use href="#m" x="259.7" y="1128.5"/>
<use href="#m" x="264.9" y="1159.4"/>
<use href="#m" x="280.6" y="1122.5"/>
<use href="#m" x="265.1" y="1109.5"/>
<use href="#m" x="259.3" y="1117.2"/>
<use href="#m" x="274.7" y="1136.3"/>
<use href="#m" x="278.1" y="1171.2"/>
<use href="#m" x="262.2" y="1125.3"/>
<use href="#m" x="305.9" y="1083.9"/>
<use href="#m" x="264.5" y="1128.7"/>
<use href="#m" x="272.9" y="1134"/>
<use href="#m" x="268" y="1133.1"/>
<use href="#m" x="271.7" y="1142"/>
<use href="#m" x="247.3" y="1105.5"/>
<use href="#m" x="271" y="1102.3"/>
<use href="#m" x="257.9" y="1138.8"/>
<use href="#m" x="262.9" y="1139"/>
<use href="#m" x="280.3" y="1131.7"/>
<use href="#m" x="277.4" y="1122.7"/>
<use href="#m" x="253.4" y="1124.3"/>
<use href="#m" x="276.7" y="1113.4"/>
<use href="#m" x="269.8" y="1141.5"/>
<use href="#m" x="260" y="1139.1"/>
<use href="#m" x="294.3" y="1112.8"/>
<use href="#m" x="272.8" y="1121.7"/>
<use href="#m" x="290.3" y="1132"/>
<use href="#m" x="282.2" y="1109.8"/>
<use href="#m" x="270.8" y="1124.8"/>
<use href="#m" x="248.8" y="1156.7"/>
<use href="#m" x="282.2" y="1086.5"/>
<use href="#m" x="280.3" y="1122.1"/>
<use href="#m" x="276.6" y="1133.1"/>
<use href="#m" x="252.3" y="1120.3"/>
<use href="#m" x="289.7" y="1112.4"/>
<use href="#m" x="258.2" y="1095.1"/>
<use href="#m" x="255.7" y="1132.4"/>
<use href="#m" x="292.2" y="1134.4"/>
<use href="#m" x="274.1" y="1174.1"/>
<use href="#m" x="264.5" y="1110.2"/>
<use href="#m" x="277.6" y="1137.1"/>
<use href="#m" x="258.3" y="1099.3"/>
<use href="#m" x="274.6" y="1130.4"/>
<use href="#m" x="254.7" y="1120.6"/>
<use href="#m" x="264.2" y="1135.1"/>
<use href="#m" x="269.5" y="1123.1"/>
<use href="#m" x="266.6" y="1148.2"/>
<use href="#m" x="288.4" y="1116.9"/>
<use href="#m" x="281.6" y="1108.3"/>
<use href="#m" x="271.9" y="1141.5"/>
<use href="#m" x="289.9" y="1116.6"/>
<use href="#m" x="270.1" y="1129.3"/>
<use href="#m" x="252.3" y="1125.3"/>
<use href="#m" x="262.6" y="1133.2"/>
<use href="#m" x="256.9" y="1081.5"/>
<use href="#m" x="271.5" y="1130.7"/>
<use href="#m" x="264.1" y="1144.6"/>
<use href="#m" x="267.6" y="1111.7"/>
<use href="#m" x="277" y="1090.5"/>
<use href="#m" x="262.5" y="1124.5"/>
<use href="#m" x="281.6" y="1121.4"/>
<use href="#m" x="274.9" y="1110.6"/>
<use href="#m" x="274.8" y="1161.6"/>
<use href="#m" x="262.4" y="1177.1"/>
<use href="#m" x="263" y="1125.4"/>
<use href="#m" x="273.2" y="1147.5"/>
<use href="#m" x="255.5" y="1078.8"/>
<use href="#m" x="278.6" y="1142.5"/>
<use href="#m" x="278.8" y="1182.9"/>
<use href="#m" x="273.6" y="1130.6"/>
<use href="#m" x="282.6" y="1133.1"/>
<use href="#m" x="291.8" y="1097.8"/>
<use href="#m" x="266.3" y="1049.2"/>
<use href="#m" x="281.2" y="1116.8"/>
<use href="#m" x="282.5" y="1172.4"/>
<use href="#m" x="270.9" y="1119.4"/>
<use href="#m" x="264.8" y="1106.6"/>
<use href="#m" x="263.1" y="1139.1"/>
<use href="#m" x="271.5" y="1126.5"/>
<use href="#m" x="268.8" y="1145.1"/>
<use href="#m" x="277.2" y="1121.9"/>
<use href="#m" x="279.3" y="1121.7"/>
<use href="#m" x="256.6" y="1157"/>
<use href="#m" x="276.8" y="1103.9"/>
<use href="#m" x="284.5" y="1132.6"/>
<use href="#m" x="251.4" y="1160.4"/>
<use href="#m" x="275.2" y="1144.6"/>
<use href="#m" x="273.5" y="1121.7"/>
<use href="#m" x="251.6" y="1146.4"/>
<use href="#m" x="271.4" y="1118.7"/>
<use href="#m" x="275.4" y="1126.7"/>
<use href="#m" x="279.4" y="1116.8"/>
<use href="#m" x="270.5" y="1077.9"/>
<use href="#m" x="265.7" y="1139.9"/>
<use href="#m" x="287.7" y="1117"/>
<use href="#m" x="269.5" y="1159.8"/>
<use href="#m" x="266.9" y="1141.1"/>
<use href="#m" x="292" y="1125.9"/>
<use href="#m" x="286.3" y="1109.4"/>
<use href="#m" x="273.6" y="1123.3"/>
<use href="#m" x="272.4" y="1149.9"/>
<use href="#m" x="300.9" y="1110.4"/>
<use href="#m" x="263.8" y="1135.9"/>
<use href="#m" x="257.8" y="1135.9"/>
<use href="#m" x="278.1" y="1118.9"/>
<use href="#m" x="277.6" y="1090.9"/>
<use href="#m" x="280.5" y="1091"/>
<use href="#m" x="262.3" y="1112.8"/>
<use href="#m" x="266" y="1143.9"/>
<use href="#m" x="272" y="1116.3"/>
<use href="#m" x="277.8" y="1159.8"/>
<use href="#m" x="271.1" y="1133"/>
<use href="#m" x="286.5" y="1130.9"/>
<use href="#m" x="255" y="1179.8"/>
<use href="#m" x="298.6" y="1081.3"/>
<use href="#m" x="270.5" y="1134.2"/>
<use href="#m" x="283.1" y="1139.7"/>
<use href="#m" x="267.6" y="1101.8"/>
<use href="#m" x="272.3" y="1147.7"/>
<use href="#m" x="257.4" y="1102.4"/>
<use href="#m" x="270.7" y="1082.4"/>
<use href="#m" x="267.7" y="1115.4"/>
<use href="#m" x="276.6" y="1109.6"/>
<use href="#m" x="260" y="1116.3"/>
<use href="#m" x="270.4" y="1110.4"/>
<use href="#m" x="271.2" y="1141.5"/>
<use href="#m" x="285.8" y="1162.5"/>
<use href="#m" x="261.2" y="1115.8"/>
<use href="#m" x="240" y="1166.8"/>
<use href="#m" x="261.9" y="1124.3"/>
<use href="#m" x="277.5" y="1095.1"/>
<use href="#m" x="276.8" y="1124.4"/>
<use href="#m" x="248.2" y="1131.4"/>
<use href="#m" x="285.9" y="1083.9"/>
<use href="#m" x="281.1" y="1129.6"/>
<use href="#m" x="276.9" y="1134.7"/>
<use href="#m" x="287.3" y="1120.1"/>
<use href="#m" x="281.9" y="1116"/>
<use href="#m" x="280.1" y="1107.1"/>
<use href="#m" x="269.6" y="1163.1"/>
<use href="#m" x="276.6" y="1121.5"/>
<use href="#m" x="256.7" y="1107.6"/>
<use href="#m" x="273.4" y="1145.7"/>
<use href="#m" x="276.3" y="1136.5"/>
<use href="#m" x="270.5" y="1154.7"/>
<use href="#m" x="266.1" y="1112.9"/>
<use href="#m" x="282.1" y="1126.4"/>
<use href="#m" x="267.5" y="1112.3"/>
<use href="#m" x="267.8" y="1138.7"/>
<use href="#m" x="275.4" y="1098.4"/>
<use href="#m" x="276.3" y="1128.9"/>
<use href="#m" x="258.5" y="1142"/>
<use href="#m" x="267.5" y="1117.6"/>
<use href="#m" x="280.9" y="1154.1"/>
<use href="#m" x="262.4" y="1134.6"/>
<use href="#m" x="260" y="1175.9"/>
<use href="#m" x="264.8" y="1151.3"/>
<use href="#m" x="262.9" y="1142.8"/>
<use href="#m" x="298.7" y="1069.1"/>
<use href="#m" x="265.6" y="1136"/>
<use href="#m" x="269.8" y="1110.3"/>
<use href="#m" x="297.9" y="1126.7"/>
<use href="#m" x="250.4" y="1143.8"/>
<use href="#m" x="249.5" y="1150.3"/>
<use href="#m" x="263.8" y="1128.2"/>
<use href="#m" x="286.8" y="1127.6"/>
<use href="#m" x="253.6" y="1087.7"/>
<use href="#m" x="285.8" y="1141.3"/>
<use href="#m" x="260.8" y="1143.9"/>
<use href="#m" x="277.2" y="1139.2"/>
<use href="#m" x="242.8" y="1118.4"/>
<use href="#m" x="282.3" y="1141.1"/>
<use href="#m" x="282" y="1070.9"/>
<use href="#m" x="273.1" y="1135.8"/>
<use href="#m" x="302.9" y="1104"/>
<use href="#m" x="266.9" y="1125.8"/>
<use href="#m" x="282.1" y="1115.2"/>
<use href="#m" x="285.3" y="1107.7"/>
<use href="#m" x="274.3" y="1113.4"/>
<use href="#m" x="273" y="1109.8"/>
<use href="#m" x="251" y="1149"/>
<use href="#m" x="274.8" y="1112.7"/>
<use href="#m" x="273.5" y="1146.8"/>
<use href="#m" x="258.8" y="1122.6"/>
<use href="#m" x="277.7" y="1136.6"/>
<use href="#m" x="266.8" y="1078.6"/>
<use href="#m" x="286.5" y="1132.2"/>
<use href="#m" x="271.2" y="1118.9"/>
<use href="#m" x="274.3" y="1115.6"/>
<use href="#m" x="258.2" y="1108.7"/>
<use href="#m" x="263.5" y="1111.5"/>
<use href="#m" x="256.5" y="1139"/>
<use href="#m" x="254.6" y="1139.5"/>
<use href="#m" x="258.3" y="1132.8"/>
<use href="#m" x="288.2" y="1129.5"/>
<use href="#m" x="261.9" y="1126.1"/>
<use href="#m" x="272.9" y="1086.9"/>
<use href="#m" x="263.4" y="1128.6"/>
<use href="#m" x="265.1" y="1126.8"/>
<use href="#m" x="280.2" y="1141.9"/>
<use href="#m" x="282.3" y="1137.9"/>
<use href="#m" x="267.4" y="1124.6"/>
<use href="#m" x="267.6" y="1118.1"/>
<use href="#m" x="268.8" y="1087.1"/>
<use href="#m" x="266.8" y="1124.5"/>
<use href="#m" x="258.8" y="1124.5"/>
<use href="#m" x="277.4" y="1121.4"/>
<use href="#m" x="297" y="1067.7"/>
<use href="#m" x="268.4" y="1084.8"/>
<use href="#m" x="283.2" y="1183.4"/>
<use href="#m" x="239.7" y="1127.8"/>
<use href="#m" x="277.5" y="1118.3"/>
<use href="#m" x="277.9" y="1075.7"/>
<use href="#m" x="281.7" y="1133.2"/>
<use href="#m" x="271.3" y="1112.1"/>
<use href="#m" x="279" y="1114.3"/>
<use href="#m" x="273.8" y="1113.8"/>
<use href="#m" x="242.9" y="1124.3"/>
<use href="#m" x="273.5" y="1141.6"/>
<use href="#m" x="260" y="1124.3"/>
<use href="#m" x="278.7" y="1128.2"/>
<use href="#m" x="286.5" y="1168.8"/>
<use href="#m" x="259.6" y="1082.7"/>
<use href="#m" x="281.7" y="1158.6"/>
<use href="#m" x="282.5" y="1142.9"/>
<use href="#m" x="263.3" y="1109.3"/>
<use href="#m" x="282.1" y="1104.9"/>
<use href="#m" x="248.3" y="1103.1"/>
<use href="#m" x="302.2" y="1167.3"/>
<use href="#m" x="262.4" y="1109"/>
<use href="#m" x="273.9" y="1108.5"/>
<use href="#m" x="287.4" y="1123.3"/>
<use href="#m" x="257.4" y="1153.8"/>
<use href="#m" x="263.7" y="1129.9"/>
<use href="#m" x="270.8" y="1118.1"/>
<use href="#m" x="275.1" y="1109.8"/>
<use href="#m" x="247.9" y="1076.4"/>
<use href="#m" x="255.2" y="1108.3"/>
<use href="#m" x="270.7" y="1126.2"/>
<use href="#m" x="278" y="1127.6"/>
<use href="#m" x="261.1" y="1109.4"/>
<use href="#m" x="244.5" y="1121.3"/>
<use href="#m" x="277.1" y="1136.7"/>
<use href="#m" x="269.5" y="1121.2"/>
<use href="#m" x="282.7" y="1125.3"/>
<use href="#m" x="280.2" y="1137.8"/>
<use href="#m" x="273.7" y="1153.7"/>
<use href="#m" x="263.8" y="1117.1"/>
<use href="#m" x="260.9" y="1107.5"/>
<use href="#m" x="290.4" y="1163.7"/>
<use href="#m" x="271.3" y="1137.5"/>
<use href="#m" x="285.7" y="1142.8"/>
<use href="#m" x="286.1" y="1097.2"/>
<use href="#m" x="263" y="1135"/>
<use href="#m" x="288.9" y="1127.3"/>
<use href="#m" x="260.3" y="1117.2"/>
<use href="#m" x="262.7" y="1106.1"/>
<use href="#m" x="289.8" y="1111.2"/>
<use href="#m" x="271.3" y="1172.6"/>
<use href="#m" x="285.8" y="1132.4"/>
<use href="#m" x="263.4" y="1134"/>
<use href="#m" x="291.3" y="1138.7"/>
<use href="#m" x="286.8" y="1127.2"/>
<use href="#m" x="277.5" y="1120.6"/>
<use href="#m" x="276.3" y="1153.6"/>
<use href="#m" x="253.1" y="1123.6"/>
<use href="#m" x="274" y="1112.4"/>
<use href="#m" x="267.1" y="1142.3"/>
<use href="#m" x="296" y="1138.8"/>
<use href="#m" x="275.1" y="1090.9"/>
<use href="#m" x="295.1" y="1126.7"/>
<use href="#m" x="270.6" y="1100.4"/>
<use href="#m" x="270.3" y="1100.9"/>
<use href="#m" x="271.9" y="1135.3"/>
<use href="#m" x="271.4" y="1131.2"/>
<use href="#m" x="260.4" y="1156.5"/>
<use href="#m" x="262.8" y="1085"/>
<use href="#m" x="268.7" y="1108.2"/>
<use href="#m" x="258.4" y="1117.2"/>
<use href="#m" x="274.6" y="1099"/>
<use href="#m" x="269.3" y="1156.4"/>
<use href="#m" x="279.5" y="1121.7"/>
<use href="#m" x="272.6" y="1122.4"/>
<use href="#m" x="270.4" y="1141.1"/>
<use href="#m" x="269.8" y="1072.1"/>
<use href="#m" x="270.7" y="1105.4"/>
<use href="#m" x="279.1" y="1111.6"/>
<use href="#m" x="272.9" y="1172.9"/>
<use href="#m" x="257.9" y="1100.3"/>
<use href="#m" x="253.4" y="1072.3"/>
<use href="#m" x="247.5" y="1133"/>
<use href="#m" x="263" y="1083.9"/>
<use href="#m" x="252.5" y="1138.6"/>
<use href="#m" x="261.3" y="1116.9"/>
<use href="#m" x="275.1" y="1154.8"/>
<use href="#m" x="295.3" y="1147.7"/>
<use href="#m" x="272.8" y="1129.1"/>
<use href="#m" x="293.5" y="1156.4"/>
<use href="#m" x="267.1" y="1135.1"/>
<use href="#m" x="274.6" y="1126.2"/>
<use href="#m" x="264.7" y="1095.8"/>
<use href="#m" x="264.3" y="1091"/>
<use href="#m" x="286.3" y="1136.8"/>
<use href="#m" x="255.9" y="1155.7"/>
<use href="#m" x="282.1" y="1083"/>
<use href="#m" x="294" y="1142.8"/>
<use href="#m" x="296.8" y="1097.9"/>
<use href="#m" x="277.6" y="1134.3"/>
<use href="#m" x="273.5" y="1128.8"/>
<use href="#m" x="284.2" y="1092.1"/>
<use href="#m" x="255.5" y="1094.3"/>
<use href="#m" x="264" y="1111.7"/>
<use href="#m" x="275.6" y="1130.9"/>
<use href="#m" x="271.4" y="1110.1"/>
<use href="#m" x="265.5" y="1146"/>
<use href="#m" x="280.5" y="1127.2"/>
<use href="#m" x="267" y="1159.2"/>
<use href="#m" x="263.6" y="1139.3"/>
<use href="#m" x="285.4" y="1119.2"/>
<use href="#m" x="281.3" y="1100.5"/>
<use href="#m" x="283.7" y="1129.4"/>
<use href="#m" x="251.2" y="1139.7"/>
<use href="#m" x="259.8" y="1153.2"/>
<use href="#m" x="262.5" y="1121.4"/>
<use href="#m" x="274.5" y="1117.7"/>
<use href="#m" x="274.2" y="1112.8"/>
<use href="#m" x="279.4" y="1125.1"/>
<use href="#m" x="273.6" y="1064.4"/>
<use href="#m" x="285.5" y="1125.7"/>
<use href="#m" x="248.7" y="1127.1"/>
<use href="#m" x="276.8" y="1148.6"/>
<use href="#m" x="257.5" y="1159"/>
<use href="#m" x="269" y="1177.7"/>
<use href="#m" x="269.2" y="1140"/>
<use href="#m" x="266.4" y="1100.5"/>
<use href="#m" x="284.7" y="1144.9"/>
<use href="#m" x="290.2" y="1143.9"/>
<use href="#m" x="263.8" y="1088.4"/>
<use href="#m" x="262.9" y="1110.1"/>
<use href="#m" x="260.8" y="1137.8"/>
<use href="#m" x="275.1" y="1119.1"/>
<use href="#m" x="273.2" y="1121.8"/>
<use href="#m" x="273.7" y="1141.5"/>
<use href="#m" x="283" y="1109.9"/>
<use href="#m" x="252.2" y="1156.4"/>
<use href="#m" x="272.4" y="1149.3"/>
<use href="#m" x="250.5" y="1117.7"/>
<use href="#m" x="271.3" y="1093.3"/>
<use href="#m" x="264.6" y="1140.9"/>
<use href="#m" x="284.5" y="1160.1"/>
<use href="#m" x="260.2" y="1094.2"/>
<use href="#m" x="277.5" y="1145.7"/>
<use href="#m" x="273.4" y="1096.4"/>
<use href="#m" x="280.8" y="1142.4"/>
<use href="#m" x="277.9" y="1114.3"/>
<use href="#m" x="274.8" y="1142.4"/>
<use href="#m" x="264" y="1084.4"/>
<use href="#m" x="275.1" y="1135.6"/>
<use href="#m" x="271.2" y="1144.6"/>
<use href="#m" x="263.7" y="1123.2"/>
<use href="#m" x="267.2" y="1137.6"/>
<use href="#m" x="290.9" y="1119.5"/>
<use href="#m" x="296.7" y="1158.6"/>
<use href="#m" x="280.9" y="1137.9"/>
<use href="#m" x="293.1" y="1121"/>
<use href="#m" x="269.6" y="1101.6"/>
<use href="#m" x="276.9" y="1154.6"/>
<use href="#m" x="277.7" y="1134.3"/>
<use href="#m" x="268.5" y="1128.7"/>
<use href="#m" x="253.2" y="1148.1"/>
<use href="#m" x="265.9" y="1100.7"/>
<use href="#m" x="261.6" y="1106.9"/>
<use href="#m" x="281.7" y="1148.3"/>
<use href="#m" x="254" y="1145.4"/>
<use href="#m" x="282.1" y="1112.3"/>
<use href="#m" x="252.4" y="1108.6"/>
<use href="#m" x="253.6" y="1200.8"/>
<use href="#m" x="256" y="1160.5"/>
<use href="#m" x="261" y="1168.9"/>
<use href="#m" x="266.7" y="1174.5"/>
<use href="#m" x="253.1" y="1180.5"/>
<use href="#m" x="254.4" y="1217.1"/>
<use href="#m" x="266.2" y="1205.2"/>
<use href="#m" x="261.7" y="1168.7"/>
<use href="#m" x="254.6" y="1185.6"/>
<use href="#m" x="250.7" y="1203.7"/>
<use href="#m" x="252.7" y="1182.9"/>
<use href="#m" x="250.1" y="1160"/>
<use href="#m" x="264.1" y="1217.6"/>
<use href="#m" x="260.5" y="1178.4"/>
<use href="#m" x="236" y="1197.9"/>
<use href="#m" x="269.3" y="1200.1"/>
<use href="#m" x="266.9" y="1220.1"/>
<use href="#m" x="268.6" y="1187.5"/>
<use href="#m" x="267.9" y="1208.2"/>
<use href="#m" x="245.9" y="1188.1"/>
<use href="#m" x="246.9" y="1193.1"/>
<use href="#m" x="263.9" y="1176.8"/>
<use href="#m" x="241.5" y="1217.1"/>
<use href="#m" x="262.2" y="1220"/>
<use href="#m" x="247.7" y="1213"/>
<use href="#m" x="276.6" y="1229.1"/>
<use href="#m" x="257.2" y="1199.6"/>
<use href="#m" x="257.7" y="1212"/>
<use href="#m" x="267.8" y="1196.5"/>
<use href="#m" x="247.4" y="1207.6"/>
<use href="#m" x="255" y="1205.7"/>
<use href="#m" x="261.2" y="1222.6"/>
<use href="#m" x="268.7" y="1187.3"/>
<use href="#m" x="262" y="1225"/>
<use href="#m" x="254.4" y="1202.4"/>
<use href="#m" x="269.1" y="1216.4"/>
<use href="#m" x="263.4" y="1172.6"/>
<use href="#m" x="248.3" y="1199.2"/>
<use href="#m" x="262.3" y="1238.3"/>
<use href="#m" x="251.7" y="1214.3"/>
<use href="#m" x="265.5" y="1166.6"/>
<use href="#m" x="252" y="1197.8"/>
<use href="#m" x="254.8" y="1192.4"/>
<use href="#m" x="263" y="1181.2"/>
<use href="#m" x="263" y="1184.2"/>
<use href="#m" x="254.4" y="1204.1"/>
<use href="#m" x="254.1" y="1199.9"/>
<use href="#m" x="272.6" y="1195.5"/>
<use href="#m" x="257.8" y="1207.5"/>
<use href="#m" x="255.9" y="1213.4"/>
<use href="#m" x="248.1" y="1205.5"/>
<use href="#m" x="254.6" y="1181.4"/>
<use href="#m" x="274" y="1180.5"/>
<use href="#m" x="273.9" y="1206.2"/>
<use href="#m" x="271.4" y="1178.4"/>
<use href="#m" x="269.2" y="1219.8"/>
<use href="#m" x="258" y="1192.8"/>
<use href="#m" x="279.9" y="1198"/>
<use href="#m" x="255.4" y="1184.3"/>
<use href="#m" x="262.8" y="1200.6"/>
<use href="#m" x="260.5" y="1224.3"/>
<use href="#m" x="256.2" y="1203"/>
<use href="#m" x="271.4" y="1177.9"/>
<use href="#m" x="267.8" y="1226.1"/>
<use href="#m" x="247.5" y="1176.3"/>
<use href="#m" x="250.2" y="1163.6"/>
<use href="#m" x="262.8" y="1163.4"/>
<use href="#m" x="263.2" y="1219.7"/>
<use href="#m" x="245.3" y="1189.6"/>
<use href="#m" x="242.7" y="1208.2"/>
<use href="#m" x="252.7" y="1190.5"/>
<use href="#m" x="259.5" y="1204.3"/>
<use href="#m" x="256.1" y="1195.3"/>
<use href="#m" x="254.4" y="1196.9"/>
<use href="#m" x="249" y="1196.1"/>
<use href="#m" x="242.6" y="1186.7"/>
<use href="#m" x="275.3" y="1196.4"/>
<use href="#m" x="248.3" y="1199.4"/>
<use href="#m" x="250.7" y="1166.9"/>
<use href="#m" x="252.7" y="1207.5"/>
<use href="#m" x="262.3" y="1193.4"/>
<use href="#m" x="251.1" y="1176.7"/>
<use href="#m" x="270.5" y="1199.2"/>
<use href="#m" x="250.9" y="1159.1"/>
<use href="#m" x="247.4" y="1237.1"/>
<use href="#m" x="249.2" y="1193.7"/>
<use href="#m" x="260.8" y="1192.3"/>
<use href="#m" x="256.6" y="1171.7"/>
<use href="#m" x="250.1" y="1223.7"/>
<use href="#m" x="252.6" y="1209.4"/>
<use href="#m" x="244.6" y="1190.3"/>
<use href="#m" x="261.2" y="1212.6"/>
<use href="#m" x="249.5" y="1205.1"/>
<use href="#m" x="262.3" y="1182.5"/>
<use href="#m" x="263.1" y="1179.7"/>
<use href="#m" x="252.2" y="1194.7"/>
<use href="#m" x="235.9" y="1193.1"/>
<use href="#m" x="250.5" y="1170.1"/>
<use href="#m" x="255.4" y="1208"/>
<use href="#m" x="255.6" y="1216.5"/>
<use href="#m" x="249.1" y="1172.7"/>
<use href="#m" x="272.2" y="1201.8"/>
<use href="#m" x="267" y="1180.9"/>
<use href="#m" x="265.8" y="1199.4"/>
<use href="#m" x="264.5" y="1195.4"/>
<use href="#m" x="269.3" y="1184"/>
<use href="#m" x="250.8" y="1169.9"/>
<use href="#m" x="268.9" y="1182.4"/>
<use href="#m" x="250.1" y="1179"/>
<use href="#m" x="255.2" y="1173.4"/>
<use href="#m" x="256.5" y="1184.3"/>
<use href="#m" x="254.3" y="1178.7"/>
<use href="#m" x="259.3" y="1187.2"/>
<use href="#m" x="260" y="1199.2"/>
<use href="#m" x="261.9" y="1157.8"/>
<use href="#m" x="254.4" y="1181.5"/>
<use href="#m" x="265.6" y="1168.2"/>
<use href="#m" x="252.9" y="1190"/>
<use href="#m" x="256.1" y="1211.9"/>
<use href="#m" x="255.2" y="1211.4"/>
<use href="#m" x="246.5" y="1164.2"/>
<use href="#m" x="269.4" y="1202.4"/>
<use href="#m" x="263.1" y="1197.1"/>
<use href="#m" x="263.1" y="1174.3"/>
<use href="#m" x="267.1" y="1186"/>
<use href="#m" x="267.4" y="1196.5"/>
<use href="#m" x="242.2" y="1173.1"/>
<use href="#m" x="268.6" y="1192.7"/>
<use href="#m" x="255.6" y="1199.1"/>
<use href="#m" x="255.4" y="1185.7"/>
<use href="#m" x="259.9" y="1197.5"/>
<use href="#m" x="271.9" y="1195.8"/>
<use href="#m" x="275" y="1225.6"/>
<use href="#m" x="273.6" y="1213"/>
<use href="#m" x="260.1" y="1197.3"/>
<use href="#m" x="257.8" y="1182.6"/>
<use href="#m" x="258.4" y="1184.1"/>
<use href="#m" x="272.9" y="1204.1"/>
<use href="#m" x="255.2" y="1162.4"/>
<use href="#m" x="258.5" y="1187.9"/>
<use href="#m" x="249.8" y="1175.7"/>
<use href="#m" x="239.9" y="1204.7"/>
<use href="#m" x="258.4" y="1238.9"/>
<use href="#m" x="258.7" y="1192.5"/>
<use href="#m" x="271.3" y="1197.3"/>
<use href="#m" x="260.4" y="1188.7"/>
<use href="#m" x="253.9" y="1220.5"/>
<use href="#m" x="267.5" y="1224.2"/>
<use href="#m" x="256" y="1195.5"/>
<use href="#m" x="251.5" y="1211.4"/>
<use href="#m" x="247.2" y="1204.6"/>
<use href="#m" x="268.3" y="1219"/>
<use href="#m" x="251" y="1213.5"/>
<use href="#m" x="252.9" y="1182.1"/>
<use href="#m" x="247.8" y="1214.6"/>
<use href="#m" x="273" y="1184.9"/>
<use href="#m" x="252.5" y="1189.2"/>
<use href="#m" x="280.3" y="1212.1"/>
<use href="#m" x="254.4" y="1164.5"/>
<use href="#m" x="253.3" y="1215.2"/>
<use href="#m" x="274.9" y="1190.5"/>
<use href="#m" x="253.1" y="1186.3"/>
<use href="#m" x="243" y="1210.4"/>
<use href="#m" x="249.8" y="1213.1"/>
<use href="#m" x="244.5" y="1173.4"/>
<use href="#m" x="261.5" y="1182"/>
<use href="#m" x="265.6" y="1195.1"/>
<use href="#m" x="249" y="1205.6"/>
<use href="#m" x="266.2" y="1162.5"/>
<use href="#m" x="274.5" y="1203.5"/>
<use href="#m" x="265.5" y="1163.4"/>
<use href="#m" x="252.9" y="1189.1"/>
<use href="#m" x="268.2" y="1170.2"/>
<use href="#m" x="251.5" y="1160.5"/>
<use href="#m" x="257" y="1200.9"/>
<use href="#m" x="244.7" y="1184.9"/>
<use href="#m" x="263.3" y="1222"/>
<use href="#m" x="264.6" y="1189.8"/>
<use href="#m" x="249" y="1179.1"/>
<use href="#m" x="253.4" y="1197.5"/>
<use href="#m" x="258.6" y="1223.3"/>
<use href="#m" x="261.4" y="1176.8"/>
<use href="#m" x="272.1" y="1211.1"/>
<use href="#m" x="259.9" y="1182.7"/>
<use href="#m" x="243.1" y="1177.6"/>
<use href="#m" x="266.7" y="1181.4"/>
<use href="#m" x="247.8" y="1198.3"/>
<use href="#m" x="261.1" y="1205.3"/>
<use href="#m" x="264.6" y="1219"/>
<use href="#m" x="251.9" y="1211.6"/>
<use href="#m" x="252.3" y="1149.1"/>
<use href="#m" x="275.6" y="1130.2"/>
<use href="#m" x="291.4" y="1119.3"/>
<use href="#m" x="294.2" y="1156.8"/>
<use href="#m" x="274.7" y="1096.2"/>
<use href="#m" x="256.9" y="1097.8"/>
<use href="#m" x="268" y="1119"/>
<use href="#m" x="331.6" y="1146.8"/>
<use href="#m" x="287.4" y="1083.9"/>
<use href="#m" x="257.8" y="1106.6"/>
<use href="#m" x="275.8" y="1076.5"/>
<use href="#m" x="304.2" y="1096.3"/>
<use href="#m" x="293.6" y="1021.9"/>
<use href="#m" x="271.9" y="1131.7"/>
<use href="#m" x="275.8" y="1145.3"/>
<use href="#m" x="277.6" y="1126.8"/>
<use href="#m" x="234.1" y="1090"/>
<use href="#m" x="225.1" y="1146.4"/>
<use href="#m" x="278.1" y="1111.8"/>
<use href="#m" x="255.6" y="1095.6"/>
<use href="#m" x="308.9" y="1192.7"/>
<use href="#m" x="270.8" y="1174.1"/>
<use href="#m" x="240.2" y="1038.7"/>
<use href="#m" x="262.3" y="1083.3"/>
<use href="#m" x="260.8" y="1127.9"/>
<use href="#m" x="332.5" y="1092.2"/>
<use href="#m" x="273" y="1131.6"/>
<use href="#m" x="271.3" y="1159.1"/>
<use href="#m" x="307.5" y="1067.8"/>
<use href="#m" x="275.2" y="1108.9"/>
<use href="#m" x="279.1" y="1055.7"/>
<use href="#m" x="236.8" y="1022.7"/>
<use href="#m" x="282.5" y="1128.1"/>
<use href="#m" x="273.5" y="1020.6"/>
<use href="#m" x="264.5" y="1088.3"/>
<use href="#m" x="243.7" y="1081.5"/>
<use href="#m" x="286" y="1142.9"/>
<use href="#m" x="271.5" y="1141.6"/>
<use href="#m" x="259.9" y="1123"/>
<use href="#m" x="272.8" y="1143.3"/>
<use href="#m" x="270.6" y="1114"/>
<use href="#m" x="269.3" y="1092.9"/>
<use href="#m" x="316.7" y="1141.6"/>
<use href="#m" x="280.6" y="1216.2"/>
<use href="#m" x="300.1" y="1054.6"/>
<use href="#m" x="285.9" y="1155.2"/>
<use href="#m" x="309.7" y="1175.3"/>
<use href="#m" x="287.4" y="1070.6"/>
<use href="#m" x="254.6" y="1131.3"/>
<use href="#m" x="282.1" y="1077.1"/>
<use href="#m" x="264.3" y="1103.2"/>
<use href="#m" x="273.2" y="1134.1"/>
<use href="#m" x="266.3" y="1068.1"/>
<use href="#m" x="296.9" y="1187"/>
<use href="#m" x="269.9" y="1163"/>
<use href="#m" x="280.9" y="1147.7"/>
<use href="#m" x="281.6" y="1087.9"/>
<use href="#m" x="283.5" y="1162.4"/>
<use href="#m" x="254.1" y="1202.6"/>
<use href="#m" x="313.8" y="1196.6"/>
<use href="#m" x="311.8" y="1151.2"/>
<use href="#m" x="265.2" y="1094.8"/>
<use href="#m" x="255.7" y="1124.9"/>
<use href="#m" x="271.3" y="1148.2"/>
<use href="#m" x="231.6" y="1217.1"/>
<use href="#m" x="317.5" y="1118.8"/>
<use href="#m" x="285.5" y="1140"/>
<use href="#m" x="277.5" y="1111.2"/>
<use href="#m" x="269.5" y="1085.4"/>
<use href="#m" x="275.6" y="1119"/>
<use href="#m" x="261.5" y="1021.7"/>
<use href="#m" x="258.4" y="1032.6"/>
<use href="#m" x="264.6" y="1019.2"/>
<use href="#m" x="262.6" y="1043.8"/>
<use href="#m" x="264.6" y="1027.6"/>
<use href="#m" x="252.6" y="1029.2"/>
<use href="#m" x="266" y="1050.6"/>
<use href="#m" x="256.3" y="1024.3"/>
<use href="#m" x="262.1" y="1034.5"/>
<use href="#m" x="248" y="1023.2"/>
<use href="#m" x="256.9" y="1040.1"/>
<use href="#m" x="244.9" y="1019.8"/>
<use href="#m" x="263.5" y="1017.3"/>
<use href="#m" x="259.2" y="1036.2"/>
<use href="#m" x="256.8" y="1019.8"/>
<use href="#m" x="257.3" y="1028"/>
<use href="#m" x="261.7" y="1021.9"/>
<use href="#m" x="270" y="1011.9"/>
<use href="#m" x="256.1" y="1032.1"/>
<use href="#m" x="268.6" y="1024.7"/>
<use href="#m" x="264" y="1025.2"/>
<use href="#m" x="266.1" y="1052.8"/>
<use href="#m" x="253.6" y="1037.3"/>
<use href="#m" x="247.8" y="1043.7"/>
<use href="#m" x="271.3" y="1032.4"/>
<use href="#m" x="245.5" y="1036.8"/>
<use href="#m" x="270.6" y="1045.1"/>
<use href="#m" x="266.9" y="1010"/>
<use href="#m" x="250.5" y="1049.1"/>
<use href="#m" x="244.5" y="1045.6"/>
<use href="#m" x="278.7" y="1041.1"/>
<use href="#m" x="270.3" y="1028"/>
<use href="#m" x="244.5" y="1030.8"/>
<use href="#m" x="255.8" y="1031.4"/>
<use href="#m" x="265.7" y="1030.3"/>
<use href="#m" x="260.1" y="1037.1"/>
<use href="#m" x="257.9" y="1054.1"/>
<use href="#m" x="262.9" y="1033"/>
<use href="#m" x="255.7" y="1024.5"/>
<use href="#m" x="272.8" y="1033.8"/>
<use href="#m" x="246.1" y="1025.3"/>
<use href="#m" x="256.5" y="1026.7"/>
<use href="#m" x="269.9" y="1018.1"/>
<use href="#m" x="263.4" y="1033.7"/>
<use href="#m" x="245" y="1032.6"/>
<use href="#m" x="279.4" y="802.2"/>
<use href="#m" x="243.6" y="808.8"/>
<use href="#m" x="250.8" y="814.8"/>
<use href="#m" x="254.4" y="810"/>
<use href="#m" x="258" y="816"/>
<use href="#m" x="261.6" y="818.4"/>
<use href="#m" x="252" y="819.6"/>
<use href="#m" x="262.8" y="810"/>
<use href="#m" x="222" y="839.4"/>
<use href="#m" x="228.6" y="846.6"/>
<use href="#m" x="273.6" y="837.6"/>
<use href="#m" x="276" y="841.2"/>
<use href="#m" x="274.8" y="844.8"/>
<use href="#m" x="272.4" y="834"/>
<use href="#m" x="243.6" y="854.4"/>
<use href="#m" x="250.8" y="859.2"/>
<use href="#m" x="258" y="858"/>
<use href="#m" x="298.8" y="855"/>
<use href="#m" x="304.8" y="859.2"/>
<use href="#m" x="300" y="866.4"/>
<use href="#m" x="301.2" y="856.8"/>
<use href="#m" x="252" y="882"/>
<use href="#m" x="254.4" y="884.4"/>
<use href="#m" x="256.8" y="886.8"/>
<use href="#m" x="253.2" y="879.6"/>
<use href="#m" x="258" y="883.2"/>
<use href="#m" x="255.6" y="888"/>
<use href="#m" x="250.8" y="885.6"/>
<use href="#m" x="260.4" y="885.6"/>
<use href="#m" x="259.2" y="889.2"/>
<use href="#m" x="249.6" y="880.8"/>
<use href="#m" x="262.8" y="888"/>
<use href="#m" x="258.6" y="891"/>
<use href="#m" x="264" y="891.6"/>
<use href="#m" x="247.2" y="883.2"/>
<use href="#m" x="235.2" y="864"/>
<use href="#m" x="236.4" y="871.2"/>
<use href="#m" x="242.4" y="876"/>
<use href="#m" x="240" y="868.8"/>
<use href="#m" x="244.8" y="872.4"/>
<use href="#m" x="248.4" y="888"/>
<use href="#m" x="252" y="895.2"/>
<use href="#m" x="267.6" y="885.6"/>
<use href="#m" x="268.8" y="895.2"/>
<use href="#m" x="276" y="885.6"/>
<use href="#m" x="280.8" y="885.6"/>
<use href="#m" x="274.8" y="891.6"/>
<use href="#m" x="283.2" y="883.2"/>
<use href="#m" x="299.4" y="890.4"/>
<use href="#m" x="307.2" y="910.2"/>
<use href="#m" x="362.4" y="884.4"/>
<use href="#m" x="364.8" y="886.8"/>
<use href="#m" x="360" y="885.6"/>
<use href="#m" x="367.2" y="888"/>
<use href="#m" x="363.6" y="885.6"/>
<use href="#m" x="366" y="884.4"/>
<use href="#m" x="387.6" y="895.2"/>
<use href="#m" x="252" y="908.4"/>
<use href="#m" x="250.8" y="915.6"/>
<use href="#m" x="275.4" y="916.8"/>
<use href="#m" x="242.4" y="925.2"/>
<use href="#m" x="247.2" y="919.2"/>
<use href="#m" x="205.2" y="934.2"/>
<use href="#m" x="207.6" y="933.6"/>
<use href="#m" x="202.8" y="934.8"/>
<use href="#m" x="230.4" y="945.6"/>
<use href="#m" x="234" y="940.8"/>
<use href="#m" x="228" y="944.4"/>
<use href="#m" x="229.2" y="942"/>
<use href="#m" x="259.2" y="936"/>
<use href="#m" x="262.8" y="948"/>
<use href="#m" x="310.8" y="946.8"/>
<use href="#m" x="367.2" y="943.8"/>
<use href="#m" x="362.4" y="952.8"/>
<use href="#m" x="247.2" y="948"/>
<use href="#m" x="254.4" y="952.8"/>
<use href="#m" x="257.2" y="958"/>
<use href="#m" x="254.8" y="960.4"/>
<use href="#m" x="259.6" y="961.6"/>
<use href="#m" x="230.8" y="969.4"/>
<use href="#m" x="288.4" y="971.8"/>
<use href="#m" x="256" y="970"/>
<use href="#m" x="257.2" y="977.2"/>
<use href="#m" x="259" y="980.8"/>
<use href="#m" x="209.2" y="993.4"/>
<use href="#m" x="214.6" y="1004.8"/>
<use href="#m" x="302.8" y="1000"/>
<use href="#m" x="338.8" y="996.4"/>
<use href="#m" x="190" y="1015.6"/>
<use href="#m" x="234.4" y="1007.2"/>
<use href="#m" x="232" y="1014.4"/>
<use href="#m" x="239.2" y="1012"/>
<use href="#m" x="235.6" y="1019.2"/>
<use href="#m" x="253.6" y="1010.8"/>
<use href="#m" x="250" y="1007.2"/>
<use href="#m" x="256" y="1014.4"/>
<use href="#m" x="260.8" y="1016.8"/>
<use href="#m" x="268" y="1014.4"/>
<use href="#m" x="246.4" y="1018"/>
<use href="#m" x="214" y="1027.6"/>
<use href="#m" x="203.8" y="1033"/>
<use href="#m" x="220" y="1031.2"/>
<use href="#m" x="224.8" y="1026.4"/>
<use href="#m" x="227.2" y="1032.4"/>
<use href="#m" x="210.4" y="1024"/>
<use href="#m" x="221.2" y="1022.8"/>
<use href="#m" x="326.2" y="1030"/>
<use href="#m" x="304" y="1034.8"/>
<use href="#m" x="310" y="1038.4"/>
<use href="#m" x="298" y="1031.2"/>
<use href="#m" x="301.6" y="1042"/>
<use href="#m" x="313.6" y="1044.4"/>
<use href="#m" x="307.6" y="1031.2"/>
<use href="#m" x="316" y="1036"/>
<use href="#m" x="294.4" y="1038.4"/>
<use href="#m" x="320.8" y="1048"/>
<use href="#m" x="311.2" y="1051.6"/>
<use href="#m" x="158.2" y="1053.4"/>
<use href="#m" x="156.4" y="1051.8"/>
<use href="#m" x="211.6" y="1056.4"/>
<use href="#m" x="215.2" y="1058.8"/>
<use href="#m" x="217.6" y="1055.2"/>
<use href="#m" x="209.2" y="1054"/>
<use href="#m" x="214" y="1081.6"/>
<use href="#m" x="218.8" y="1078"/>
<use href="#m" x="211.6" y="1075.6"/>
<use href="#m" x="220" y="1072"/>
<use href="#m" x="226" y="1066"/>
<use href="#m" x="229.6" y="1060"/>
<use href="#m" x="232" y="1072"/>
<use href="#m" x="227.2" y="1084"/>
<use href="#m" x="205.6" y="1106.8"/>
<use href="#m" x="210.4" y="1104.4"/>
<use href="#m" x="208" y="1110.4"/>
<use href="#m" x="304" y="1060"/>
<use href="#m" x="318.4" y="1074.4"/>
<use href="#m" x="332.8" y="1088.8"/>
<use href="#m" x="313.6" y="1085.2"/>
<use href="#m" x="328" y="1099.6"/>
<use href="#m" x="326.8" y="1064.8"/>
<use href="#m" x="304" y="1090"/>
<use href="#m" x="318.4" y="1105.6"/>
<use href="#m" x="338.8" y="1084"/>
<use href="#m" x="362.8" y="956.2"/>
<use href="#m" x="386.6" y="963.4"/>
<use href="#m" x="341.4" y="997"/>
<use href="#m" x="347.8" y="1005.4"/>
<use href="#m" x="388.6" y="1047.4"/>
<use href="#m" x="392.8" y="1054.6"/>
<use href="#m" x="347.2" y="1060"/>
<use href="#m" x="352" y="1062.4"/>
<use href="#m" x="354.4" y="1058.8"/>
<use href="#m" x="344.8" y="1064.8"/>
<use href="#m" x="350.8" y="1067.2"/>
<use href="#m" x="349.6" y="1061.2"/>
<use href="#m" x="384.4" y="1081.6"/>
<use href="#m" x="385.6" y="1099.6"/>
<use href="#m" x="388" y="1102"/>
<use href="#m" x="386.8" y="1098.4"/>
<use href="#m" x="387.4" y="1100.8"/>
<use href="#m" x="356.8" y="1105.6"/>
<use href="#m" x="359.2" y="1081.6"/>
<use href="#m" x="353.2" y="1090"/>
<use href="#m" x="366.4" y="1091.2"/>
<use href="#m" x="342.4" y="1078"/>
<use href="#m" x="344.8" y="1110.4"/>
<use href="#m" x="200.8" y="1144.2"/>
<use href="#m" x="206.8" y="1173.6"/>
<use href="#m" x="218.8" y="1167.6"/>
<use href="#m" x="196" y="1124.4"/>
<use href="#m" x="205.6" y="1123.2"/>
<use href="#m" x="214" y="1125.6"/>
<use href="#m" x="222.4" y="1124.4"/>
<use href="#m" x="224.8" y="1140"/>
<use href="#m" x="229.6" y="1149.6"/>
<use href="#m" x="227.2" y="1160.4"/>
<use href="#m" x="232" y="1172.4"/>
<use href="#m" x="226" y="1182"/>
<use href="#m" x="230.8" y="1194"/>
<use href="#m" x="227.2" y="1203.6"/>
<use href="#m" x="233.2" y="1213.2"/>
<use href="#m" x="220" y="1227.6"/>
<use href="#m" x="227.2" y="1231.2"/>
<use href="#m" x="232" y="1234.8"/>
<use href="#m" x="238" y="1239.6"/>
<use href="#m" x="244" y="1242"/>
<use href="#m" x="250" y="1244.4"/>
<use href="#m" x="241.6" y="1260"/>
<use href="#m" x="244" y="1264.8"/>
<use href="#m" x="257.2" y="1269.6"/>
<use href="#m" x="239.2" y="1267.2"/>
<use href="#m" x="262" y="1252.8"/>
<use href="#m" x="282.4" y="1230"/>
<use href="#m" x="284.8" y="1231.2"/>
<use href="#m" x="268" y="1242"/>
<use href="#m" x="274" y="1236"/>
<use href="#m" x="323.8" y="1267.2"/>
<use href="#m" x="322" y="1236"/>
<use href="#m" x="330.4" y="1232.4"/>
<use href="#m" x="338.8" y="1239.6"/>
<use href="#m" x="308.8" y="1213.2"/>
<use href="#m" x="316" y="1209.6"/>
<use href="#m" x="319.6" y="1203.6"/>
<use href="#m" x="247.6" y="1285"/>
<use href="#m" x="298" y="1128"/>
<use href="#m" x="310" y="1144.8"/>
<use href="#m" x="322" y="1161.6"/>
<use href="#m" x="334" y="1178.4"/>
<use href="#m" x="307.6" y="1158"/>
<use href="#m" x="319.6" y="1174.8"/>
<use href="#m" x="296.8" y="1161.6"/>
<use href="#m" x="308.8" y="1178.4"/>
<use href="#m" x="294.4" y="1177.2"/>
<use href="#m" x="306.4" y="1194"/>
<use href="#m" x="298" y="1200"/>
<use href="#m" x="289.6" y="1213.2"/>
<use href="#m" x="334" y="1142.4"/>
<use href="#m" x="322" y="1128"/>
<use href="#m" x="330.4" y="1124.4"/>
<use href="#m" x="338.8" y="1167.6"/>
<use href="#m" x="325.6" y="1198.8"/>
<use href="#m" x="450.2" y="1165"/>
<use href="#m" x="506.8" y="1231.8"/>
<use href="#m" x="358.6" y="1233.6"/>
<use href="#m" x="341.2" y="1239.6"/>
<use href="#m" x="354.4" y="1204.8"/>
<use href="#m" x="358" y="1202.4"/>
<use href="#m" x="350.8" y="1208.4"/>
<use href="#m" x="385.6" y="1180.8"/>
<use href="#m" x="340" y="1183.2"/>
<use href="#m" x="403.6" y="1143.6"/>
<use href="#m" x="395.2" y="1149.6"/>
<use href="#m" x="388" y="1141.2"/>
<use href="#m" x="390.4" y="1158"/>
<use href="#m" x="382" y="1146"/>
<use href="#m" x="373.6" y="1155.6"/>
<use href="#m" x="367.6" y="1138.8"/>
<use href="#m" x="361.6" y="1131.6"/>
<use href="#m" x="356.8" y="1152"/>
<use href="#m" x="352" y="1149.6"/>
<use href="#m" x="347.2" y="1146"/>
<use href="#m" x="364" y="1160.4"/>
<use href="#m" x="376" y="1167.6"/>
<use href="#m" x="371.2" y="1172.4"/>
<use href="#m" x="384.4" y="1117.2"/>
<use href="#m" x="386.8" y="1122"/>
<use href="#m" x="349.6" y="1174.8"/>
<use href="#m" x="342.4" y="1160.4"/>
<use href="#m" x="359.2" y="1143.6"/>
<use href="#m" x="368.8" y="1149.6"/>
<use href="#m" x="354.4" y="1153.2"/>
<use href="#m" x="358" y="1149.6"/>
<use href="#m" x="353.2" y="1146"/>
<use href="#m" x="392.8" y="1144.8"/>
<use href="#m" x="400" y="1147.2"/>
<use href="#m" x="397.6" y="1141.2"/>
<use href="#m" x="384.4" y="1137.6"/>
<use href="#m" x="733.8" y="1154.2"/>
<use href="#m" x="741.2" y="1137.5"/>
<use href="#m" x="758.2" y="1134.2"/>
<use href="#m" x="765.5" y="1147.5"/>
<use href="#m" x="793" y="1128.8"/>
<use href="#m" x="813.2" y="1276"/>
<use href="#m" x="247.5" y="1291"/>
</g>
<path d="M156.7,1109.55 L613.5,1137.87" fill="none" stroke="#e02d20" stroke-width="3" stroke-linecap="round" stroke-dasharray="12.8 18.7"/>
<path d="M616.5,1138.06 L813.3,1150.26" fill="none" stroke="#e02d20" stroke-width="3" stroke-linecap="round" stroke-dasharray="12.8 18.7"/>
<text transform="translate(111.20 798.10) scale(0.9850 1)" font-size="30.6" text-anchor="start" fill="#231815" font-weight="bold" >KNN=8</text>
<text transform="translate(790.40 1350.70) scale(1.1175 1)" font-size="53" font-weight="bold" fill="#231815" text-anchor="start">c<tspan x="19.91" font-size="53">)</tspan></text>
<line x1="93.60" y1="750.70" x2="93.60" y2="1390.10" stroke="#000" stroke-width="2.3" />
<line x1="871.90" y1="750.70" x2="871.90" y2="1383.90" stroke="#000" stroke-width="2.3" />
<line x1="87.10" y1="750.70" x2="872.70" y2="750.70" stroke="#000" stroke-width="2.3" />
<line x1="87.10" y1="1378.10" x2="872.70" y2="1378.10" stroke="#000" stroke-width="2.3" />
<line x1="93.06" y1="1378.10" x2="93.06" y2="1390.10" stroke="#000" stroke-width="2.3" />
<text transform="translate(93.06 1419.20) scale(0.9700 1)" font-size="27" text-anchor="middle" fill="#000" font-weight="normal" >-4</text>
<line x1="138.87" y1="1378.10" x2="138.87" y2="1383.90" stroke="#000" stroke-width="2.3" />
<line x1="138.87" y1="750.70" x2="138.87" y2="756.50" stroke="#000" stroke-width="2.3" />
<line x1="184.68" y1="1378.10" x2="184.68" y2="1390.10" stroke="#000" stroke-width="2.3" />
<line x1="184.68" y1="750.70" x2="184.68" y2="762.70" stroke="#000" stroke-width="2.3" />
<text transform="translate(184.68 1419.20) scale(0.9700 1)" font-size="27" text-anchor="middle" fill="#000" font-weight="normal" >-2</text>
<line x1="230.49" y1="1378.10" x2="230.49" y2="1383.90" stroke="#000" stroke-width="2.3" />
<line x1="230.49" y1="750.70" x2="230.49" y2="756.50" stroke="#000" stroke-width="2.3" />
<line x1="276.30" y1="1378.10" x2="276.30" y2="1390.10" stroke="#000" stroke-width="2.3" />
<line x1="276.30" y1="750.70" x2="276.30" y2="762.70" stroke="#000" stroke-width="2.3" />
<text transform="translate(276.30 1419.20) scale(0.9700 1)" font-size="27" text-anchor="middle" fill="#000" font-weight="normal" >0</text>
<line x1="322.11" y1="1378.10" x2="322.11" y2="1383.90" stroke="#000" stroke-width="2.3" />
<line x1="322.11" y1="750.70" x2="322.11" y2="756.50" stroke="#000" stroke-width="2.3" />
<line x1="367.92" y1="1378.10" x2="367.92" y2="1390.10" stroke="#000" stroke-width="2.3" />
<line x1="367.92" y1="750.70" x2="367.92" y2="762.70" stroke="#000" stroke-width="2.3" />
<text transform="translate(367.92 1419.20) scale(0.9700 1)" font-size="27" text-anchor="middle" fill="#000" font-weight="normal" >2</text>
<line x1="413.73" y1="1378.10" x2="413.73" y2="1383.90" stroke="#000" stroke-width="2.3" />
<line x1="413.73" y1="750.70" x2="413.73" y2="756.50" stroke="#000" stroke-width="2.3" />
<line x1="459.54" y1="1378.10" x2="459.54" y2="1390.10" stroke="#000" stroke-width="2.3" />
<line x1="459.54" y1="750.70" x2="459.54" y2="762.70" stroke="#000" stroke-width="2.3" />
<text transform="translate(459.54 1419.20) scale(0.9700 1)" font-size="27" text-anchor="middle" fill="#000" font-weight="normal" >4</text>
<line x1="505.35" y1="1378.10" x2="505.35" y2="1383.90" stroke="#000" stroke-width="2.3" />
<line x1="505.35" y1="750.70" x2="505.35" y2="756.50" stroke="#000" stroke-width="2.3" />
<line x1="551.16" y1="1378.10" x2="551.16" y2="1390.10" stroke="#000" stroke-width="2.3" />
<line x1="551.16" y1="750.70" x2="551.16" y2="762.70" stroke="#000" stroke-width="2.3" />
<text transform="translate(551.16 1419.20) scale(0.9700 1)" font-size="27" text-anchor="middle" fill="#000" font-weight="normal" >6</text>
<line x1="596.97" y1="1378.10" x2="596.97" y2="1383.90" stroke="#000" stroke-width="2.3" />
<line x1="596.97" y1="750.70" x2="596.97" y2="756.50" stroke="#000" stroke-width="2.3" />
<line x1="642.78" y1="1378.10" x2="642.78" y2="1390.10" stroke="#000" stroke-width="2.3" />
<line x1="642.78" y1="750.70" x2="642.78" y2="762.70" stroke="#000" stroke-width="2.3" />
<text transform="translate(642.78 1419.20) scale(0.9700 1)" font-size="27" text-anchor="middle" fill="#000" font-weight="normal" >8</text>
<line x1="688.59" y1="1378.10" x2="688.59" y2="1383.90" stroke="#000" stroke-width="2.3" />
<line x1="688.59" y1="750.70" x2="688.59" y2="756.50" stroke="#000" stroke-width="2.3" />
<line x1="734.40" y1="1378.10" x2="734.40" y2="1390.10" stroke="#000" stroke-width="2.3" />
<line x1="734.40" y1="750.70" x2="734.40" y2="762.70" stroke="#000" stroke-width="2.3" />
<text transform="translate(734.40 1419.20) scale(0.9700 1)" font-size="27" text-anchor="middle" fill="#000" font-weight="normal" >10</text>
<line x1="780.21" y1="1378.10" x2="780.21" y2="1383.90" stroke="#000" stroke-width="2.3" />
<line x1="780.21" y1="750.70" x2="780.21" y2="756.50" stroke="#000" stroke-width="2.3" />
<line x1="826.02" y1="1378.10" x2="826.02" y2="1390.10" stroke="#000" stroke-width="2.3" />
<line x1="826.02" y1="750.70" x2="826.02" y2="762.70" stroke="#000" stroke-width="2.3" />
<text transform="translate(826.02 1419.20) scale(0.9700 1)" font-size="27" text-anchor="middle" fill="#000" font-weight="normal" >12</text>
<line x1="87.10" y1="750.60" x2="93.60" y2="750.60" stroke="#000" stroke-width="2.3" />
<line x1="81.10" y1="802.90" x2="93.60" y2="802.90" stroke="#000" stroke-width="2.3" />
<line x1="859.40" y1="802.90" x2="871.90" y2="802.90" stroke="#000" stroke-width="2.3" />
<text transform="translate(72.60 810.50) scale(0.9700 1)" font-size="27" text-anchor="end" fill="#000" font-weight="normal" >1.5</text>
<line x1="87.10" y1="855.20" x2="93.60" y2="855.20" stroke="#000" stroke-width="2.3" />
<line x1="865.40" y1="855.20" x2="871.90" y2="855.20" stroke="#000" stroke-width="2.3" />
<line x1="81.10" y1="907.50" x2="93.60" y2="907.50" stroke="#000" stroke-width="2.3" />
<line x1="859.40" y1="907.50" x2="871.90" y2="907.50" stroke="#000" stroke-width="2.3" />
<text transform="translate(72.60 915.10) scale(0.9700 1)" font-size="27" text-anchor="end" fill="#000" font-weight="normal" >1.0</text>
<line x1="87.10" y1="959.80" x2="93.60" y2="959.80" stroke="#000" stroke-width="2.3" />
<line x1="865.40" y1="959.80" x2="871.90" y2="959.80" stroke="#000" stroke-width="2.3" />
<line x1="81.10" y1="1012.10" x2="93.60" y2="1012.10" stroke="#000" stroke-width="2.3" />
<line x1="859.40" y1="1012.10" x2="871.90" y2="1012.10" stroke="#000" stroke-width="2.3" />
<text transform="translate(72.60 1019.70) scale(0.9700 1)" font-size="27" text-anchor="end" fill="#000" font-weight="normal" >0.5</text>
<line x1="87.10" y1="1064.40" x2="93.60" y2="1064.40" stroke="#000" stroke-width="2.3" />
<line x1="865.40" y1="1064.40" x2="871.90" y2="1064.40" stroke="#000" stroke-width="2.3" />
<line x1="81.10" y1="1116.70" x2="93.60" y2="1116.70" stroke="#000" stroke-width="2.3" />
<line x1="859.40" y1="1116.70" x2="871.90" y2="1116.70" stroke="#000" stroke-width="2.3" />
<text transform="translate(72.60 1124.30) scale(0.9700 1)" font-size="27" text-anchor="end" fill="#000" font-weight="normal" >0.0</text>
<line x1="87.10" y1="1169.00" x2="93.60" y2="1169.00" stroke="#000" stroke-width="2.3" />
<line x1="865.40" y1="1169.00" x2="871.90" y2="1169.00" stroke="#000" stroke-width="2.3" />
<line x1="81.10" y1="1221.30" x2="93.60" y2="1221.30" stroke="#000" stroke-width="2.3" />
<line x1="859.40" y1="1221.30" x2="871.90" y2="1221.30" stroke="#000" stroke-width="2.3" />
<text transform="translate(72.60 1228.90) scale(0.9700 1)" font-size="27" text-anchor="end" fill="#000" font-weight="normal" >-0.5</text>
<line x1="87.10" y1="1273.60" x2="93.60" y2="1273.60" stroke="#000" stroke-width="2.3" />
<line x1="865.40" y1="1273.60" x2="871.90" y2="1273.60" stroke="#000" stroke-width="2.3" />
<line x1="81.10" y1="1325.90" x2="93.60" y2="1325.90" stroke="#000" stroke-width="2.3" />
<line x1="859.40" y1="1325.90" x2="871.90" y2="1325.90" stroke="#000" stroke-width="2.3" />
<text transform="translate(72.60 1333.50) scale(0.9700 1)" font-size="27" text-anchor="end" fill="#000" font-weight="normal" >-1.0</text>
<line x1="87.10" y1="1378.20" x2="93.60" y2="1378.20" stroke="#000" stroke-width="2.3" />
<text transform="translate(482.40 1448.40) scale(0.9627 1)" font-size="34.4" text-anchor="middle" fill="#000" font-weight="normal" >z(residual)</text>
<text transform="translate(36.10 1063.40) rotate(-90) scale(0.9955 1)" font-size="33.3" text-anchor="middle" fill="#000" font-weight="normal" >Spatial lag of z</text>
</svg>
</body></html>
